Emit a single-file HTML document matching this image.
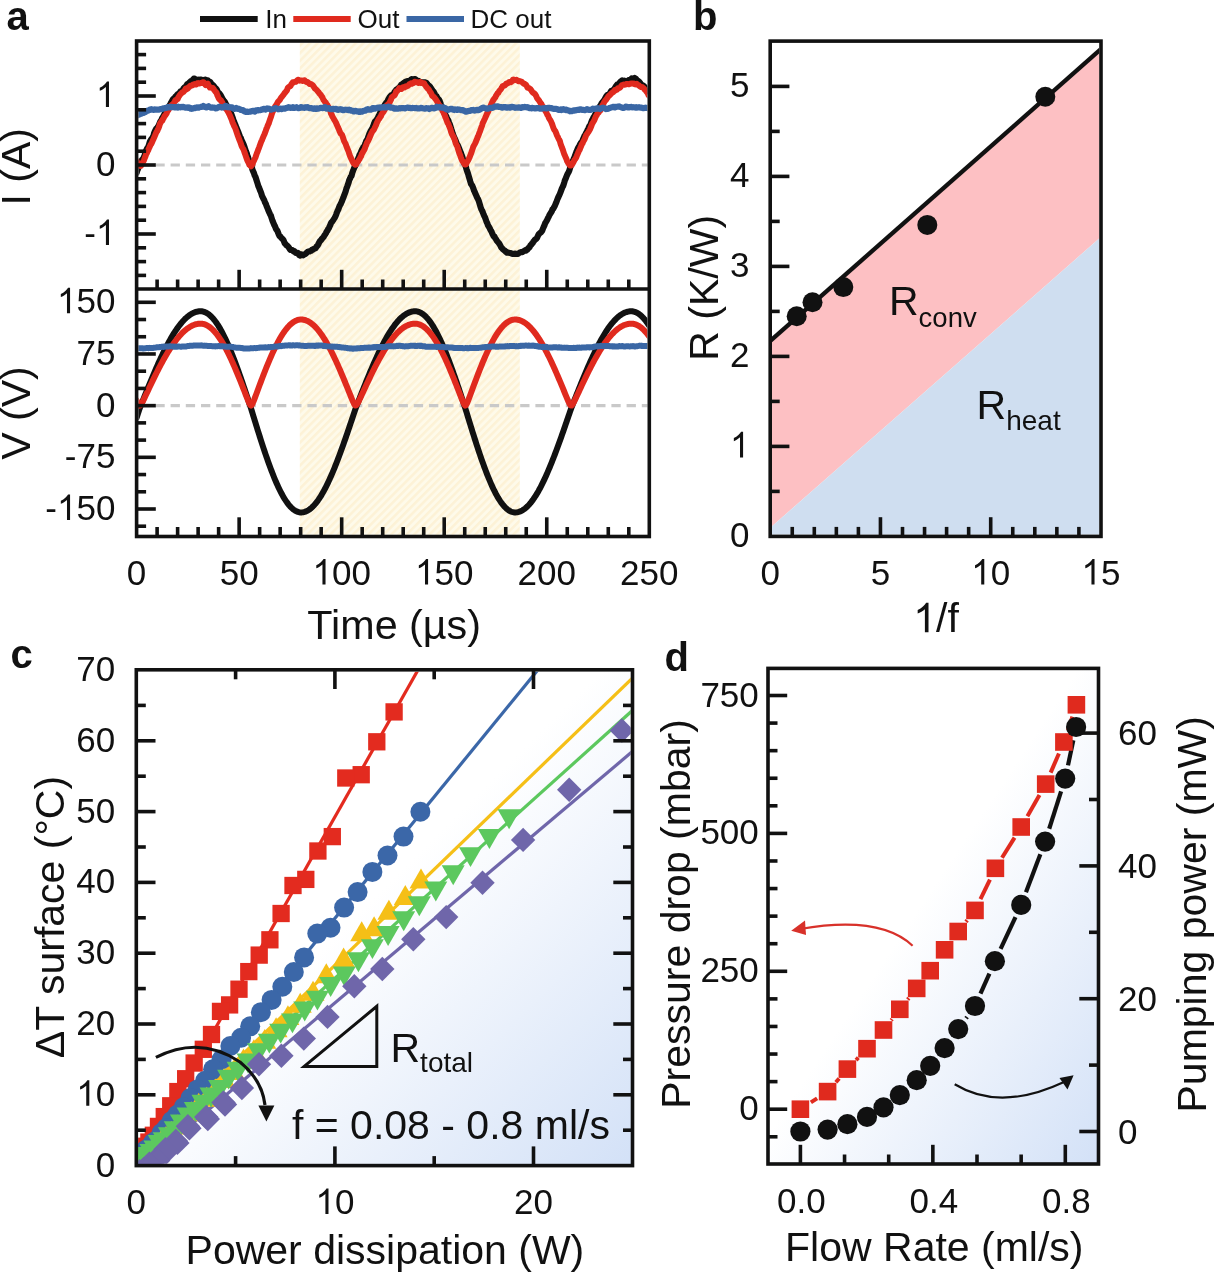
<!DOCTYPE html>
<html><head><meta charset="utf-8"><style>
html,body{margin:0;padding:0;background:#fff;}
svg{display:block;will-change:transform;}
text{font-family:"Liberation Sans", sans-serif;fill:#111;}
</style></head><body>
<svg width="1215" height="1273" viewBox="0 0 1215 1273">
<rect width="1215" height="1273" fill="#fff"/>
<defs><pattern id="hatch" patternUnits="userSpaceOnUse" width="5.4" height="5.4" patternTransform="rotate(45)"><rect width="5.4" height="5.4" fill="#fefaea"/><rect width="2.5" height="5.4" fill="#fdf2d6"/></pattern><linearGradient id="gc" x1="0" y1="0" x2="1" y2="1"><stop offset="0.47" stop-color="#ffffff"/><stop offset="1" stop-color="#d3e1f7"/></linearGradient><linearGradient id="gd" x1="0" y1="0" x2="1" y2="1"><stop offset="0.47" stop-color="#ffffff"/><stop offset="1" stop-color="#d3e1f7"/></linearGradient><clipPath id="clipa1"><rect x="138.4" y="42.8" width="509" height="244.4"/></clipPath><clipPath id="clipa2"><rect x="138.4" y="290.8" width="509" height="243.9"/></clipPath><clipPath id="clipb"><rect x="772" y="42.9" width="327.2" height="491.7"/></clipPath><clipPath id="clipc"><rect x="138.1" y="671.8" width="492.6" height="492"/></clipPath><clipPath id="clipd"><rect x="769.8" y="670.2" width="327" height="492"/></clipPath></defs>
<rect x="299.8" y="42.8" width="220" height="492" fill="url(#hatch)"/>
<line x1="138.4" y1="165" x2="647.5" y2="165" stroke="#c9c9c9" stroke-width="3.2" stroke-dasharray="9.3 5.9" stroke-dashoffset="-17"/>
<line x1="138.4" y1="405.65" x2="647.5" y2="405.65" stroke="#c9c9c9" stroke-width="3.2" stroke-dasharray="9.3 5.9" stroke-dashoffset="-17"/>
<g clip-path="url(#clipa1)">
<polyline points="136.6,172.73 137.33,170.39 138.07,168.92 138.8,166.27 139.53,164.72 140.27,162.58 141,161.79 141.73,160.37 142.47,159.33 143.2,158.57 143.93,157.05 144.67,155.05 145.4,152.72 146.14,150.43 146.87,149.09 147.6,147.61 148.34,146.68 149.07,144.36 149.8,141.97 150.54,140.5 151.27,139.16 152,139.05 152.74,137.09 153.47,135.7 154.2,132.88 154.94,131.07 155.67,129.67 156.4,128.53 157.14,128.17 157.87,126.78 158.6,125.85 159.34,123.98 160.07,122.12 160.8,120.8 161.54,119.58 162.27,117.87 163.01,116.9 163.74,115.54 164.47,114.12 165.21,113.04 165.94,112.16 166.67,110.57 167.41,109.54 168.14,108.2 168.87,106.65 169.61,105.32 170.34,104.29 171.07,102.54 171.81,101.35 172.54,99.93 173.27,98.91 174.01,98.22 174.74,97.87 175.47,96.65 176.21,96.02 176.94,95.03 177.67,94.19 178.41,94.01 179.14,93.3 179.88,92.61 180.61,91.26 181.34,91.15 182.08,90.68 182.81,90.21 183.54,88.34 184.28,87.6 185.01,87.27 185.74,86.65 186.48,85.4 187.21,84.3 187.94,83.74 188.68,83.36 189.41,82.56 190.14,82.16 190.88,81.07 191.61,80.96 192.34,80.58 193.08,79.53 193.81,78.65 194.54,78.69 195.28,79.3 196.01,79.73 196.75,79.57 197.48,79.87 198.21,79.91 198.95,79.53 199.68,79.86 200.41,79.68 201.15,79.6 201.88,80.38 202.61,80.32 203.35,80.24 204.08,80 204.81,79.8 205.55,79.68 206.28,80.05 207.01,80.49 207.75,80.26 208.48,81.14 209.21,81.6 209.95,81.88 210.68,82.56 211.41,84 212.15,84.43 212.88,84.94 213.62,85.78 214.35,86.8 215.08,88.49 215.82,88.4 216.55,89.22 217.28,90.7 218.02,92.35 218.75,93.18 219.48,93.47 220.22,94.48 220.95,95.83 221.68,97.17 222.42,98.75 223.15,99.64 223.88,101.22 224.62,101.58 225.35,102.87 226.08,104.32 226.82,106.05 227.55,107.1 228.28,108.52 229.02,110.04 229.75,111.48 230.48,112.72 231.22,113.66 231.95,115.76 232.69,117.82 233.42,120.09 234.15,121.82 234.89,123.95 235.62,125.45 236.35,127.51 237.09,129.29 237.82,130.96 238.55,132.75 239.29,134.82 240.02,136.73 240.75,137.86 241.49,140.04 242.22,141.37 242.95,143.28 243.69,144.72 244.42,146.81 245.15,149.08 245.89,151.18 246.62,152.94 247.35,155.59 248.09,157.21 248.82,159.87 249.56,161.64 250.29,162.93 251.02,164.92 251.76,167.02 252.49,169.83 253.22,171.49 253.96,173.13 254.69,175.46 255.42,176.75 256.16,179 256.89,181.32 257.62,183.62 258.36,186.12 259.09,187.65 259.82,189.71 260.56,191.47 261.29,193.34 262.02,195.84 262.76,197.31 263.49,198.92 264.22,200.08 264.96,202.39 265.69,203.42 266.43,205.57 267.16,207.4 267.89,209.13 268.63,211.03 269.36,212.63 270.09,214.33 270.83,215.49 271.56,217.88 272.29,220.13 273.03,222.07 273.76,223.7 274.49,225.45 275.23,226.96 275.96,228.83 276.69,229.84 277.43,230.85 278.16,232.92 278.89,234.7 279.63,236.33 280.36,236.54 281.09,237.63 281.83,238.41 282.56,238.99 283.3,239.82 284.03,241.5 284.76,243.53 285.5,243.87 286.23,244.99 286.96,245.57 287.7,246.09 288.43,246.82 289.16,247.98 289.9,249.45 290.63,249.97 291.36,250 292.1,250.04 292.83,250.3 293.56,251.31 294.3,251.19 295.03,252.2 295.76,252.81 296.5,252.86 297.23,252.78 297.96,252.99 298.7,254.29 299.43,255.25 300.17,255.56 300.9,254.29 301.63,254.52 302.37,254.88 303.1,255.24 303.83,254.68 304.57,254.56 305.3,254.04 306.03,253.5 306.77,252.65 307.5,252 308.23,251.71 308.97,251.42 309.7,251.49 310.43,251.01 311.17,250.83 311.9,249.81 312.63,249.95 313.37,249.14 314.1,248.82 314.83,248.5 315.57,248.32 316.3,246.98 317.04,246.03 317.77,245.4 318.5,244 319.24,242.3 319.97,241.09 320.7,240.46 321.44,239.56 322.17,238.33 322.9,237.75 323.64,236.86 324.37,235.58 325.1,234.5 325.84,233.38 326.57,231.77 327.3,230.83 328.04,229.29 328.77,228.4 329.5,226.65 330.24,225.12 330.97,223.18 331.7,222.05 332.44,221.26 333.17,220.26 333.91,219 334.64,218.02 335.37,216.41 336.11,214.76 336.84,212.59 337.57,210.82 338.31,209.46 339.04,207.33 339.77,205.54 340.51,204.38 341.24,202.74 341.97,201.12 342.71,199.22 343.44,197.4 344.17,195.31 344.91,193.45 345.64,191.4 346.37,188.72 347.11,186.82 347.84,184.7 348.57,182.63 349.31,179.9 350.04,178.56 350.78,176.67 351.51,175.98 352.24,172.99 352.98,170.93 353.71,169.17 354.44,167.25 355.18,166.2 355.91,163.82 356.64,161.24 357.38,160.45 358.11,158.68 358.84,156.82 359.58,154.72 360.31,153.83 361.04,151.7 361.78,150.11 362.51,148.8 363.24,147.29 363.98,146.45 364.71,145.36 365.44,143.37 366.18,141.15 366.91,140.13 367.65,138.59 368.38,136.48 369.11,134.51 369.85,132.69 370.58,131.36 371.31,129.92 372.05,128.85 372.78,127.2 373.51,125.23 374.25,123.12 374.98,121.39 375.71,120.69 376.45,120 377.18,118.75 377.91,117.71 378.65,115.79 379.38,114.64 380.11,112.89 380.85,111.17 381.58,109.83 382.31,109.28 383.05,108.62 383.78,107.2 384.52,105.28 385.25,104.02 385.98,103.04 386.72,102.45 387.45,101.48 388.18,99.58 388.92,98.3 389.65,97.09 390.38,96.26 391.12,95.29 391.85,94.94 392.58,95.2 393.32,94.65 394.05,93.14 394.78,91.63 395.52,90.86 396.25,89.85 396.98,89.34 397.72,88.83 398.45,88.19 399.18,88.16 399.92,86.73 400.65,85.65 401.38,84.57 402.12,84.23 402.85,83.69 403.59,83.08 404.32,82.63 405.05,82.04 405.79,81.8 406.52,81.44 407.25,81.14 407.99,81.17 408.72,80.8 409.45,80.78 410.19,80.51 410.92,79.76 411.65,79.16 412.39,79.26 413.12,79.38 413.85,79.68 414.59,79.27 415.32,79.08 416.05,80.33 416.79,81.19 417.52,81.26 418.25,80.83 418.99,81.24 419.72,81.77 420.46,82 421.19,82.45 421.92,82.61 422.66,82.45 423.39,82.55 424.12,82.32 424.86,82.39 425.59,82.55 426.32,82.85 427.06,83.71 427.79,84.7 428.52,85.31 429.26,85.78 429.99,86.54 430.72,87.89 431.46,88.88 432.19,90.02 432.92,91.12 433.66,91.81 434.39,93.14 435.12,94.65 435.86,95.82 436.59,96.25 437.33,97.77 438.06,98.67 438.79,99.38 439.53,100.62 440.26,102.54 440.99,104.71 441.73,106.29 442.46,107.83 443.19,108.76 443.93,111.03 444.66,112.97 445.39,114.62 446.13,116.08 446.86,117.78 447.59,119.22 448.33,120.46 449.06,122.74 449.79,124.33 450.53,126.54 451.26,129 451.99,131.27 452.73,133.69 453.46,135.57 454.2,137.37 454.93,138.86 455.66,140.73 456.4,142.75 457.13,144.45 457.86,145.39 458.6,147.2 459.33,148.91 460.06,151.12 460.8,152.66 461.53,154.69 462.26,156.59 463,159.03 463.73,161.56 464.46,163.67 465.2,164.48 465.93,167.41 466.66,169.73 467.4,171.88 468.13,174 468.86,176.62 469.6,179.15 470.33,181.64 471.07,183.92 471.8,184.99 472.53,186.28 473.27,188.18 474,190.53 474.73,191.95 475.47,193.66 476.2,195.45 476.93,197.19 477.67,198.61 478.4,199.92 479.13,202.1 479.87,204.67 480.6,207.26 481.33,209.18 482.07,210.47 482.8,212.28 483.53,214.29 484.27,215.92 485,217.45 485.73,219.37 486.47,221.64 487.2,223.11 487.94,225.25 488.67,226.39 489.4,227.61 490.14,229.27 490.87,230.63 491.6,231.77 492.34,233.76 493.07,235.13 493.8,236.51 494.54,236.6 495.27,238.4 496,239.11 496.74,240.63 497.47,241.45 498.2,242.31 498.94,243.09 499.67,244.46 500.4,245.61 501.14,247.33 501.87,247.99 502.6,248.91 503.34,249.63 504.07,250.18 504.81,250.64 505.54,251.48 506.27,252.13 507.01,252.7 507.74,252.43 508.47,252.68 509.21,252.88 509.94,252.96 510.67,253.05 511.41,253.36 512.14,253.8 512.87,253.75 513.61,253.73 514.34,253.97 515.07,253.54 515.81,253.9 516.54,253.73 517.27,253.76 518.01,253.81 518.74,253.22 519.47,252.74 520.21,252.4 520.94,252.16 521.68,252.1 522.41,252.08 523.14,251.51 523.88,251.16 524.61,250.91 525.34,250.18 526.08,250.56 526.81,249.85 527.54,249.34 528.28,248.11 529.01,247.78 529.74,246.91 530.48,245.17 531.21,244.76 531.94,243.63 532.68,243.02 533.41,241.63 534.14,240.83 534.88,239.65 535.61,239.24 536.34,238.68 537.08,237.82 537.81,236.13 538.55,234.47 539.28,233.73 540.01,233.06 540.75,232.52 541.48,231.57 542.21,230.57 542.95,228.62 543.68,226.92 544.41,225.35 545.15,223.24 545.88,222.1 546.61,220.91 547.35,219.49 548.08,217.76 548.81,216.55 549.55,214.87 550.28,213.67 551.01,212.57 551.75,211.36 552.48,209.38 553.21,208.74 553.95,207.31 554.68,206.1 555.42,204.33 556.15,202.71 556.88,200.71 557.62,198.77 558.35,197.13 559.08,195.53 559.82,194 560.55,192.07 561.28,190.16 562.02,188.09 562.75,186.69 563.48,184.96 564.22,182.66 564.95,180.02 565.68,178.53 566.42,176.62 567.15,174.86 567.88,173.3 568.62,172.14 569.35,170.3 570.08,167.91 570.82,165.54 571.55,163.13 572.28,162.22 573.02,160.76 573.75,158.8 574.49,157.18 575.22,155.11 575.95,153.24 576.69,151.15 577.42,149.52 578.15,147.81 578.89,146.6 579.62,145.36 580.35,143.69 581.09,142.66 581.82,142.52 582.55,140.41 583.29,138.6 584.02,136.92 584.75,135.29 585.49,134.34 586.22,132.73 586.95,131.58 587.69,129.73 588.42,128.44 589.15,126.53 589.89,125.61 590.62,124.27 591.36,122.07 592.09,120.12 592.82,119.01 593.56,117.32 594.29,116.32 595.02,114.82 595.76,113.75 596.49,113.06 597.22,111.73 597.96,109.77 598.69,108.1 599.42,107.24 600.16,105.77 600.89,104.99 601.62,103.29 602.36,102.32 603.09,101.51 603.82,100.93 604.56,99.4 605.29,98.28 606.02,96.67 606.76,95.75 607.49,94.99 608.23,94.73 608.96,94.25 609.69,93.61 610.43,92.3 611.16,90.96 611.89,90.71 612.63,90.34 613.36,89.84 614.09,89.52 614.83,88.13 615.56,86.9 616.29,85.75 617.03,84.74 617.76,85.19 618.49,85.08 619.23,83.81 619.96,82.27 620.69,81.56 621.43,81.05 622.16,80.46 622.89,80.72 623.63,80.84 624.36,80.71 625.1,81.27 625.83,81.17 626.56,81.36 627.3,80.96 628.03,80.76 628.76,80.12 629.5,79.96 630.23,79.87 630.96,79.37 631.7,78.42 632.43,79.04 633.16,78.7 633.9,78.47 634.63,77.91 635.36,78.44 636.1,79.02 636.83,80.38 637.56,80.73 638.3,81.01 639.03,81.49 639.76,82.61 640.5,83.63 641.23,84.48 641.97,84.87 642.7,85.67 643.43,85.66 644.17,86.37 644.9,87.13 645.63,88.15 646.37,89.04 647.1,90.17 647.83,90.85 648.57,91.37 649.3,91.99" fill="none" stroke="#111111" stroke-width="6.2" stroke-linejoin="round" stroke-linecap="round" />
<polyline points="136.6,160.93 137.33,162.71 138.07,163.51 138.8,164.21 139.53,165.35 140.27,166.01 141,165.9 141.73,164.08 142.47,163.13 143.2,161.78 143.93,160.3 144.67,158.25 145.4,156.57 146.14,154.26 146.87,153.09 147.6,151.39 148.34,150.02 149.07,148.06 149.8,146.61 150.54,144.82 151.27,144.05 152,142.52 152.74,140.57 153.47,139.16 154.2,137.36 154.94,135.81 155.67,133.87 156.4,132.19 157.14,131.23 157.87,129.49 158.6,128.07 159.34,125.93 160.07,123.29 160.8,122.36 161.54,121.17 162.27,120.73 163.01,119.05 163.74,118.04 164.47,116.14 165.21,115.66 165.94,114.31 166.67,113.38 167.41,111.03 168.14,110.53 168.87,109.26 169.61,107.72 170.34,106.8 171.07,105.54 171.81,104.9 172.54,104.51 173.27,104.28 174.01,102.71 174.74,101.48 175.47,100.06 176.21,100.16 176.94,99.21 177.67,99.13 178.41,97.08 179.14,96.14 179.88,94.98 180.61,93.93 181.34,93.57 182.08,92.57 182.81,92.23 183.54,91.96 184.28,90.83 185.01,90.24 185.74,88.55 186.48,89.31 187.21,88.81 187.94,88.37 188.68,87.16 189.41,86.79 190.14,85.89 190.88,85.55 191.61,85.6 192.34,85.39 193.08,84.58 193.81,84.54 194.54,84.06 195.28,84.32 196.01,84.58 196.75,84.04 197.48,83.23 198.21,83.06 198.95,83.45 199.68,83.4 200.41,82.96 201.15,83.06 201.88,83 202.61,82.4 203.35,82.18 204.08,82.57 204.81,83.9 205.55,84.98 206.28,84.5 207.01,84.01 207.75,83.58 208.48,85.51 209.21,86.61 209.95,87.57 210.68,87.35 211.41,87.89 212.15,88.01 212.88,88.07 213.62,88.98 214.35,90.31 215.08,91.15 215.82,92.11 216.55,92.68 217.28,95.12 218.02,96.65 218.75,98.53 219.48,99.19 220.22,100.16 220.95,100.43 221.68,101.61 222.42,102.86 223.15,104.61 223.88,105.54 224.62,106.81 225.35,107.33 226.08,108.97 226.82,109.8 227.55,110.94 228.28,112.19 229.02,113.7 229.75,115.11 230.48,116.94 231.22,118.69 231.95,120.45 232.69,122.69 233.42,124.25 234.15,126.03 234.89,127.44 235.62,129.18 236.35,131.26 237.09,133.63 237.82,135.75 238.55,137.67 239.29,139.63 240.02,141.49 240.75,143.33 241.49,145.74 242.22,147.3 242.95,148.5 243.69,149.78 244.42,152.13 245.15,154.11 245.89,156.35 246.62,158.43 247.35,160.34 248.09,161.86 248.82,163.23 249.56,164.97 250.29,165.53 251.02,166.35 251.76,165.2 252.49,164.2 253.22,162.05 253.96,160.59 254.69,159.05 255.42,157.47 256.16,155.2 256.89,153.17 257.62,151.48 258.36,149.33 259.09,147.55 259.82,145.55 260.56,143.42 261.29,141.48 262.02,140.07 262.76,138.07 263.49,136.27 264.22,134.7 264.96,133.01 265.69,130.97 266.43,128.76 267.16,127.07 267.89,125.18 268.63,123.73 269.36,121.4 270.09,119.35 270.83,117.28 271.56,114.95 272.29,112.53 273.03,111.17 273.76,109.38 274.49,107.94 275.23,106.27 275.96,105.34 276.69,104.37 277.43,102.86 278.16,101.5 278.89,100.92 279.63,100.19 280.36,98.98 281.09,97.53 281.83,96.81 282.56,95.9 283.3,95.03 284.03,94.01 284.76,92.75 285.5,92.23 286.23,91.05 286.96,90.3 287.7,88.07 288.43,87.28 289.16,86.64 289.9,86.31 290.63,85.88 291.36,84.16 292.1,83.35 292.83,82.3 293.56,82.46 294.3,82.12 295.03,81.79 295.76,81.77 296.5,81.19 297.23,80.38 297.96,79.78 298.7,79.95 299.43,80.62 300.17,80.46 300.9,80.47 301.63,80.5 302.37,80.92 303.1,80.45 303.83,80.37 304.57,80.25 305.3,81.05 306.03,81.91 306.77,81.86 307.5,81.95 308.23,82.58 308.97,83.55 309.7,84.05 310.43,83.83 311.17,84.03 311.9,84.64 312.63,85.19 313.37,86.13 314.1,87.14 314.83,88.33 315.57,88.95 316.3,89.64 317.04,90.34 317.77,91.46 318.5,91.95 319.24,93.32 319.97,93.99 320.7,94.64 321.44,96.08 322.17,96.85 322.9,98.55 323.64,100.07 324.37,100.97 325.1,102.06 325.84,102.65 326.57,104.24 327.3,104.82 328.04,106.42 328.77,107.3 329.5,109.11 330.24,110.76 330.97,113.55 331.7,114.67 332.44,116.59 333.17,117.74 333.91,119.22 334.64,120.33 335.37,121.63 336.11,123.01 336.84,124.69 337.57,126.37 338.31,128.2 339.04,129.64 339.77,131.65 340.51,133.37 341.24,133.95 341.97,134.73 342.71,136.84 343.44,139.06 344.17,141.14 344.91,142.54 345.64,143.95 346.37,146.01 347.11,147.98 347.84,149.73 348.57,151.41 349.31,153.98 350.04,156.05 350.78,157.61 351.51,159.23 352.24,160.84 352.98,162.15 353.71,163.54 354.44,163.89 355.18,164.69 355.91,164.55 356.64,163.6 357.38,162.01 358.11,161.39 358.84,159.93 359.58,159.02 360.31,157.38 361.04,156.31 361.78,153.99 362.51,152.87 363.24,151.5 363.98,150.35 364.71,149.02 365.44,146.55 366.18,144.93 366.91,142.82 367.65,141.67 368.38,140.36 369.11,138.7 369.85,136.98 370.58,135.31 371.31,133.5 372.05,132.12 372.78,130.84 373.51,130.08 374.25,128.85 374.98,127.24 375.71,125.77 376.45,123.93 377.18,122.09 377.91,120.73 378.65,119.19 379.38,118.5 380.11,117.18 380.85,116.3 381.58,114.41 382.31,113.27 383.05,112.32 383.78,111.38 384.52,110.09 385.25,108.44 385.98,107.05 386.72,105.36 387.45,104.78 388.18,104.27 388.92,103.35 389.65,102.28 390.38,100.91 391.12,99.45 391.85,97.15 392.58,96.64 393.32,96.07 394.05,95.67 394.78,95 395.52,93.41 396.25,91.34 396.98,91.28 397.72,90.41 398.45,89.55 399.18,88.17 399.92,88.99 400.65,89 401.38,88.93 402.12,87.85 402.85,87.37 403.59,87.36 404.32,87.6 405.05,87.08 405.79,86.31 406.52,86.36 407.25,85.89 407.99,85.73 408.72,85.09 409.45,84.25 410.19,84.05 410.92,83.4 411.65,83.71 412.39,83.01 413.12,83.18 413.85,82.53 414.59,81.78 415.32,81.71 416.05,82.18 416.79,82.14 417.52,82.2 418.25,82.94 418.99,82.28 419.72,82.08 420.46,82.1 421.19,82.79 421.92,83.01 422.66,83.07 423.39,83.14 424.12,83.19 424.86,84.87 425.59,85.71 426.32,86.91 427.06,87.67 427.79,88.65 428.52,89.21 429.26,90.22 429.99,91.75 430.72,92.53 431.46,94.03 432.19,95.7 432.92,96.34 433.66,96.77 434.39,97.65 435.12,98.57 435.86,99.59 436.59,100.62 437.33,101.92 438.06,103.09 438.79,104.42 439.53,105.31 440.26,106.23 440.99,107.49 441.73,108.67 442.46,110.77 443.19,111.68 443.93,113.68 444.66,114.96 445.39,117.2 446.13,118.92 446.86,121.01 447.59,122.93 448.33,123.87 449.06,125.88 449.79,127.58 450.53,129.69 451.26,132.33 451.99,134.35 452.73,135.48 453.46,136.83 454.2,138.26 454.93,140.71 455.66,143.14 456.4,144.86 457.13,146.05 457.86,148.34 458.6,150.97 459.33,153.28 460.06,154.92 460.8,157.2 461.53,159.13 462.26,160.78 463,161.87 463.73,162.68 464.46,164.19 465.2,164.53 465.93,164.34 466.66,162.9 467.4,161.48 468.13,160.4 468.86,158.93 469.6,157.21 470.33,155.16 471.07,153.56 471.8,151.29 472.53,149.09 473.27,146.76 474,145.41 474.73,144.1 475.47,142.66 476.2,140.82 476.93,139.15 477.67,137 478.4,135.59 479.13,133.43 479.87,131.61 480.6,129.59 481.33,127.36 482.07,125.53 482.8,122.85 483.53,121.67 484.27,119.83 485,118.44 485.73,116.62 486.47,115.06 487.2,113.2 487.94,112.16 488.67,110.3 489.4,108.6 490.14,106.89 490.87,105.36 491.6,103.39 492.34,101.77 493.07,100.36 493.8,99.37 494.54,98.31 495.27,97.4 496,95.79 496.74,94.72 497.47,93.34 498.2,93.04 498.94,91.61 499.67,90.59 500.4,89.68 501.14,88.87 501.87,87.61 502.6,86.25 503.34,85.86 504.07,85.62 504.81,85.59 505.54,84.79 506.27,83.5 507.01,83.57 507.74,83.39 508.47,82.73 509.21,82.02 509.94,82.02 510.67,82.2 511.41,81.83 512.14,80.97 512.87,79.76 513.61,79.6 514.34,80.19 515.07,80.13 515.81,79.93 516.54,79.85 517.27,80.46 518.01,80.91 518.74,81.3 519.47,81.06 520.21,81.39 520.94,81.5 521.68,81.79 522.41,82.62 523.14,83.05 523.88,83.9 524.61,83.85 525.34,84.47 526.08,85.02 526.81,86.1 527.54,87.77 528.28,87.76 529.01,88.18 529.74,88.59 530.48,89.14 531.21,90.18 531.94,91.34 532.68,92.55 533.41,92.78 534.14,93.43 534.88,93.87 535.61,95.05 536.34,96.32 537.08,98.09 537.81,99.22 538.55,99.84 539.28,101.07 540.01,102.13 540.75,103.29 541.48,104.11 542.21,106.06 542.95,106.62 543.68,107.59 544.41,109.14 545.15,110.59 545.88,111.69 546.61,112.98 547.35,114.86 548.08,115.59 548.81,117.8 549.55,119.14 550.28,120.04 551.01,121.57 551.75,123.15 552.48,125.13 553.21,127.38 553.95,129.24 554.68,130.3 555.42,131.29 556.15,133.16 556.88,135.1 557.62,136.55 558.35,138.2 559.08,139.7 559.82,140.88 560.55,143.67 561.28,145.72 562.02,147.78 562.75,149.43 563.48,151.82 564.22,154.16 564.95,155.59 565.68,157.48 566.42,159.05 567.15,161.29 567.88,162.5 568.62,163.55 569.35,164.44 570.08,165.45 570.82,165.48 571.55,165.1 572.28,163.89 573.02,162.88 573.75,161.52 574.49,159.89 575.22,159.08 575.95,157.94 576.69,156.23 577.42,154.43 578.15,152.83 578.89,150.94 579.62,149.82 580.35,147.89 581.09,146.32 581.82,144.22 582.55,143.35 583.29,141.5 584.02,140.28 584.75,138.83 585.49,136.95 586.22,134.94 586.95,134.22 587.69,133 588.42,132.03 589.15,130.74 589.89,129.49 590.62,127.77 591.36,126.01 592.09,123.9 592.82,122.68 593.56,121.42 594.29,120.14 595.02,118.54 595.76,116.58 596.49,115.54 597.22,114.08 597.96,113.02 598.69,112.49 599.42,111.16 600.16,110.6 600.89,107.91 601.62,106.95 602.36,105.45 603.09,104.24 603.82,102.84 604.56,101.5 605.29,100.49 606.02,99.79 606.76,98.62 607.49,97.9 608.23,96.58 608.96,95.75 609.69,95.23 610.43,94.59 611.16,93.59 611.89,93.01 612.63,92.31 613.36,92.1 614.09,91.06 614.83,90.14 615.56,90.31 616.29,89.72 617.03,89.76 617.76,88.28 618.49,88.43 619.23,87.99 619.96,87.69 620.69,86.8 621.43,85.77 622.16,84.94 622.89,85.04 623.63,84.56 624.36,84.81 625.1,84.66 625.83,84.21 626.56,84.02 627.3,84 628.03,83.88 628.76,84.32 629.5,83.9 630.23,83.8 630.96,83.46 631.7,83.56 632.43,83.59 633.16,83.4 633.9,84 634.63,83.79 635.36,84.34 636.1,84.42 636.83,83.85 637.56,84.55 638.3,84.98 639.03,85.49 639.76,86.14 640.5,86.82 641.23,87.1 641.97,86.93 642.7,87.51 643.43,87.97 644.17,88.76 644.9,89.91 645.63,90.14 646.37,91.36 647.1,92.35 647.83,93.59 648.57,95.25 649.3,96.05" fill="none" stroke="#e02a1e" stroke-width="6.0" stroke-linejoin="round" stroke-linecap="round" />
<polyline points="136.6,115.37 137.33,115.38 138.07,114.98 138.8,114.69 139.53,114.23 140.27,113.98 141,113.44 141.73,113.54 142.47,113.02 143.2,113.01 143.93,112.72 144.67,112.22 145.4,111.99 146.14,111.25 146.87,110.93 147.6,110.66 148.34,110.56 149.07,110.21 149.8,109.68 150.54,109.56 151.27,109.16 152,109.57 152.74,109.78 153.47,109.85 154.2,109.52 154.94,109.43 155.67,109.64 156.4,109.69 157.14,109.52 157.87,109.49 158.6,109.53 159.34,109.57 160.07,109.14 160.8,109.17 161.54,109.12 162.27,108.92 163.01,108.47 163.74,108.44 164.47,108.16 165.21,107.98 165.94,108.01 166.67,107.8 167.41,107.19 168.14,107.02 168.87,107.26 169.61,107.36 170.34,106.77 171.07,106.75 171.81,107.2 172.54,107.19 173.27,107.2 174.01,107.06 174.74,107.39 175.47,107.02 176.21,107.11 176.94,107.4 177.67,107.61 178.41,106.62 179.14,107.01 179.88,107.01 180.61,107.27 181.34,106.95 182.08,107.1 182.81,106.9 183.54,106.84 184.28,107.27 185.01,107.7 185.74,107.67 186.48,107.59 187.21,107.31 187.94,107.8 188.68,107.37 189.41,107.7 190.14,107.76 190.88,108.65 191.61,108.84 192.34,108.64 193.08,108.3 193.81,107.99 194.54,107.95 195.28,108.2 196.01,107.75 196.75,107.28 197.48,107.43 198.21,107.76 198.95,107.49 199.68,107.19 200.41,107.06 201.15,106.91 201.88,106.82 202.61,106.64 203.35,105.93 204.08,106.47 204.81,106.91 205.55,107.12 206.28,107.43 207.01,106.89 207.75,106.58 208.48,106.26 209.21,107.01 209.95,107.17 210.68,107.62 211.41,107.47 212.15,107.41 212.88,107.64 213.62,107.51 214.35,107.74 215.08,107.88 215.82,108.36 216.55,108.27 217.28,107.97 218.02,107.59 218.75,106.97 219.48,106.77 220.22,107.08 220.95,107.16 221.68,107.52 222.42,107.28 223.15,107.33 223.88,106.83 224.62,106.57 225.35,105.87 226.08,106.07 226.82,106.83 227.55,107.22 228.28,106.88 229.02,106.81 229.75,107.39 230.48,107.42 231.22,107.41 231.95,107.25 232.69,108.17 233.42,108.46 234.15,108.85 234.89,108.69 235.62,108.27 236.35,107.98 237.09,108.3 237.82,108.89 238.55,108.88 239.29,108.95 240.02,109.29 240.75,109.93 241.49,110.06 242.22,109.98 242.95,110.02 243.69,110.65 244.42,111.52 245.15,111.5 245.89,111.86 246.62,111.7 247.35,111.61 248.09,111.9 248.82,111.82 249.56,111.69 250.29,111.59 251.02,111.26 251.76,111.15 252.49,110.91 253.22,110.75 253.96,110.96 254.69,111.57 255.42,111.12 256.16,110.4 256.89,110.32 257.62,110.03 258.36,110.3 259.09,110.23 259.82,110.27 260.56,110.05 261.29,109.8 262.02,109.37 262.76,109.43 263.49,108.95 264.22,108.95 264.96,109.27 265.69,109.57 266.43,109.04 267.16,108.4 267.89,108.58 268.63,108.55 269.36,108.92 270.09,109.25 270.83,109.62 271.56,109.66 272.29,109.24 273.03,109.08 273.76,108.93 274.49,108.63 275.23,108.03 275.96,108.26 276.69,108.56 277.43,108.76 278.16,109.28 278.89,109.16 279.63,109 280.36,108.72 281.09,108.56 281.83,109.01 282.56,108.49 283.3,108.62 284.03,108.47 284.76,108.61 285.5,108.28 286.23,108.15 286.96,107.87 287.7,107.57 288.43,107.17 289.16,107.45 289.9,107.62 290.63,107.94 291.36,107.6 292.1,107.74 292.83,107.21 293.56,107.92 294.3,107.83 295.03,107.51 295.76,107.62 296.5,107.25 297.23,107.82 297.96,107.95 298.7,108.16 299.43,107.88 300.17,107.91 300.9,107.17 301.63,107.28 302.37,107.5 303.1,107.74 303.83,107.77 304.57,107.91 305.3,107.35 306.03,107.16 306.77,107.55 307.5,107.15 308.23,107.5 308.97,107.8 309.7,108.2 310.43,108.06 311.17,108.12 311.9,108.28 312.63,108.64 313.37,108.86 314.1,108.47 314.83,108.26 315.57,108.91 316.3,108.47 317.04,108.81 317.77,108.41 318.5,108.58 319.24,108.33 319.97,108.09 320.7,107.73 321.44,107.9 322.17,108.1 322.9,108.06 323.64,107.58 324.37,107.14 325.1,107.11 325.84,107.65 326.57,108.61 327.3,108.5 328.04,108.37 328.77,108.19 329.5,108.85 330.24,108.83 330.97,109.09 331.7,108.99 332.44,109.04 333.17,108.91 333.91,108.94 334.64,109.17 335.37,108.96 336.11,108.82 336.84,109.31 337.57,109.75 338.31,109.88 339.04,109.28 339.77,109.46 340.51,109.22 341.24,109.31 341.97,109.72 342.71,109.97 343.44,110.25 344.17,109.84 344.91,109.78 345.64,109.72 346.37,109.74 347.11,109.81 347.84,109.75 348.57,110.06 349.31,109.71 350.04,110.06 350.78,110.57 351.51,110.44 352.24,110.79 352.98,110.91 353.71,111.42 354.44,111.2 355.18,111.05 355.91,110.8 356.64,111.23 357.38,111.41 358.11,111.43 358.84,111.89 359.58,111.95 360.31,111.37 361.04,111.29 361.78,111.69 362.51,111.48 363.24,111.03 363.98,110.82 364.71,110.77 365.44,110.76 366.18,109.75 366.91,109.55 367.65,109.19 368.38,109.28 369.11,109.68 369.85,109.74 370.58,109.76 371.31,109.19 372.05,109.12 372.78,108.08 373.51,108.11 374.25,108.25 374.98,108.59 375.71,108.3 376.45,107.97 377.18,107.85 377.91,107.63 378.65,107.62 379.38,107.76 380.11,107.45 380.85,107.6 381.58,107.28 382.31,107.41 383.05,107.42 383.78,107.19 384.52,106.9 385.25,107.34 385.98,107.27 386.72,107.29 387.45,106.93 388.18,106.71 388.92,106.7 389.65,107.27 390.38,107.08 391.12,107.58 391.85,107.53 392.58,107.68 393.32,107.97 394.05,108.53 394.78,108.76 395.52,108.28 396.25,108.52 396.98,108.64 397.72,108.59 398.45,108.61 399.18,108.19 399.92,108.44 400.65,108.25 401.38,108.08 402.12,108.24 402.85,108.15 403.59,108.11 404.32,108.24 405.05,108.36 405.79,108.08 406.52,107.88 407.25,107.69 407.99,107.61 408.72,107.88 409.45,107.84 410.19,107.82 410.92,108.24 411.65,108.12 412.39,107.94 413.12,108.02 413.85,108.01 414.59,108.03 415.32,108.05 416.05,107.97 416.79,108.22 417.52,108.34 418.25,108.42 418.99,108.45 419.72,108.4 420.46,107.95 421.19,107.82 421.92,108.15 422.66,108.29 423.39,108.43 424.12,108.56 424.86,108.62 425.59,108.47 426.32,108.15 427.06,108.24 427.79,108.48 428.52,108.47 429.26,108.97 429.99,108.46 430.72,108.37 431.46,107.92 432.19,107.87 432.92,108 433.66,108.41 434.39,108.4 435.12,108.16 435.86,107.4 436.59,106.77 437.33,107.24 438.06,107.32 438.79,107.45 439.53,107 440.26,107.41 440.99,107.36 441.73,107.62 442.46,107.53 443.19,107.34 443.93,107.87 444.66,107.74 445.39,108.85 446.13,108.73 446.86,109.44 447.59,109.68 448.33,109.89 449.06,109.44 449.79,109.1 450.53,108.77 451.26,108.87 451.99,108.81 452.73,109.47 453.46,109.67 454.2,109.99 454.93,109.35 455.66,109.68 456.4,109.53 457.13,109.93 457.86,109.42 458.6,109.47 459.33,109.66 460.06,109.76 460.8,110.23 461.53,110.2 462.26,110.13 463,110.05 463.73,110.68 464.46,110.84 465.2,111.28 465.93,111.71 466.66,111.64 467.4,111.19 468.13,111.19 468.86,110.89 469.6,111.02 470.33,110.84 471.07,110.26 471.8,110.03 472.53,110.19 473.27,109.94 474,110.53 474.73,110.58 475.47,110.34 476.2,110.1 476.93,109.76 477.67,109.77 478.4,110.15 479.13,110.04 479.87,109.51 480.6,109.08 481.33,108.48 482.07,107.97 482.8,107.8 483.53,107.66 484.27,107.96 485,108.02 485.73,108.37 486.47,108.66 487.2,108.71 487.94,108.56 488.67,108.47 489.4,108.15 490.14,108.05 490.87,107.81 491.6,108.02 492.34,107.76 493.07,107.62 493.8,107.23 494.54,106.77 495.27,106.47 496,106.66 496.74,106.53 497.47,106.35 498.2,106.54 498.94,106.94 499.67,106.88 500.4,107.09 501.14,107.16 501.87,107.62 502.6,107.57 503.34,107.06 504.07,107.17 504.81,107.3 505.54,107.15 506.27,107.44 507.01,107.69 507.74,107.3 508.47,107.47 509.21,107.46 509.94,107.73 510.67,107.32 511.41,106.76 512.14,106.89 512.87,107.18 513.61,107.05 514.34,107.37 515.07,107.8 515.81,107.6 516.54,107.59 517.27,107.63 518.01,107.5 518.74,107.33 519.47,107.52 520.21,107.77 520.94,107.9 521.68,107.37 522.41,107.02 523.14,107.38 523.88,107.14 524.61,106.93 525.34,107.24 526.08,107.18 526.81,107.42 527.54,107.22 528.28,107.69 529.01,107.84 529.74,108.23 530.48,108.19 531.21,108.33 531.94,107.86 532.68,108.05 533.41,108.12 534.14,108.31 534.88,108.43 535.61,108.45 536.34,108.3 537.08,108.15 537.81,108.11 538.55,108.15 539.28,108.26 540.01,108.62 540.75,108.58 541.48,108.62 542.21,108.53 542.95,108.4 543.68,108.38 544.41,108.16 545.15,108.17 545.88,108.31 546.61,108.15 547.35,108.36 548.08,107.92 548.81,107.81 549.55,107.88 550.28,108.19 551.01,107.98 551.75,108.21 552.48,108.56 553.21,108.84 553.95,109 554.68,108.94 555.42,108.82 556.15,108.89 556.88,109.13 557.62,109.31 558.35,109.84 559.08,109.74 559.82,109.86 560.55,109.49 561.28,110.02 562.02,109.29 562.75,109.56 563.48,109.18 564.22,109.71 564.95,109.62 565.68,110.06 566.42,109.74 567.15,110.23 567.88,110.3 568.62,110.55 569.35,110.6 570.08,111.29 570.82,111.21 571.55,111.26 572.28,110.86 573.02,110.7 573.75,110.39 574.49,110.6 575.22,110.21 575.95,110.33 576.69,110.1 577.42,109.78 578.15,109.72 578.89,109.85 579.62,109.51 580.35,109.36 581.09,109.39 581.82,109.86 582.55,109.85 583.29,109.87 584.02,109.96 584.75,110.13 585.49,109.95 586.22,109.68 586.95,109.24 587.69,109.53 588.42,109.74 589.15,109.88 589.89,109.83 590.62,109.81 591.36,109.72 592.09,109.24 592.82,108.7 593.56,108.73 594.29,108.86 595.02,108.86 595.76,108.55 596.49,108.73 597.22,108.46 597.96,108.17 598.69,108.65 599.42,108.83 600.16,109.04 600.89,108.34 601.62,108.08 602.36,107.72 603.09,107.67 603.82,108.11 604.56,108.4 605.29,108.43 606.02,109.14 606.76,108.92 607.49,108.96 608.23,108.62 608.96,108.31 609.69,108.09 610.43,107.64 611.16,107.43 611.89,107.45 612.63,107.01 613.36,106.85 614.09,106.89 614.83,107.43 615.56,106.79 616.29,106.87 617.03,106.77 617.76,106.71 618.49,106.67 619.23,106.45 619.96,106.93 620.69,107.17 621.43,107.26 622.16,107.56 622.89,107.87 623.63,107.93 624.36,107.66 625.1,107.42 625.83,106.64 626.56,106.74 627.3,106.74 628.03,107.34 628.76,107.45 629.5,107.27 630.23,107.08 630.96,106.92 631.7,107.05 632.43,107.33 633.16,107.18 633.9,107.38 634.63,107.36 635.36,107.57 636.1,107.2 636.83,107.7 637.56,107.43 638.3,107.3 639.03,107.47 639.76,107.32 640.5,107.59 641.23,107.6 641.97,107.7 642.7,107.94 643.43,108.12 644.17,107.96 644.9,107.88 645.63,108.01 646.37,107.78 647.1,107.77 647.83,107.87 648.57,108.5 649.3,108.66" fill="none" stroke="#3a67a5" stroke-width="6.2" stroke-linejoin="round" stroke-linecap="round" />
</g>
<g clip-path="url(#clipa2)">
<polyline points="136.6,417.79 137.33,415.55 138.07,413.32 138.8,411.08 139.53,408.84 140.27,406.92 141,405.09 141.73,403.25 142.47,401.42 143.2,399.59 143.93,397.76 144.67,395.93 145.4,394.11 146.14,392.3 146.87,390.49 147.6,388.69 148.34,386.89 149.07,385.1 149.8,383.32 150.54,381.55 151.27,379.79 152,378.04 152.74,376.3 153.47,374.57 154.2,372.85 154.94,371.15 155.67,369.46 156.4,367.78 157.14,366.12 157.87,364.48 158.6,362.84 159.34,361.23 160.07,359.63 160.8,358.05 161.54,356.49 162.27,354.95 163.01,353.42 163.74,351.92 164.47,350.43 165.21,348.97 165.94,347.52 166.67,346.1 167.41,344.7 168.14,343.33 168.87,341.98 169.61,340.65 170.34,339.34 171.07,338.06 171.81,336.81 172.54,335.58 173.27,334.37 174.01,333.2 174.74,332.05 175.47,330.93 176.21,329.83 176.94,328.76 177.67,327.73 178.41,326.72 179.14,325.74 179.88,324.79 180.61,323.87 181.34,322.98 182.08,322.12 182.81,321.29 183.54,320.49 184.28,319.72 185.01,318.99 185.74,318.29 186.48,317.62 187.21,316.98 187.94,316.37 188.68,315.8 189.41,315.26 190.14,314.76 190.88,314.29 191.61,313.85 192.34,313.44 193.08,313.07 193.81,312.74 194.54,312.43 195.28,312.17 196.01,311.93 196.75,311.73 197.48,311.57 198.21,311.44 198.95,311.34 199.68,311.28 200.41,311.26 201.15,311.27 201.88,311.34 202.61,311.45 203.35,311.62 204.08,311.83 204.81,312.1 205.55,312.41 206.28,312.78 207.01,313.2 207.75,313.66 208.48,314.18 209.21,314.74 209.95,315.36 210.68,316.02 211.41,316.73 212.15,317.49 212.88,318.29 213.62,319.14 214.35,320.04 215.08,320.99 215.82,321.98 216.55,323.01 217.28,324.09 218.02,325.22 218.75,326.38 219.48,327.59 220.22,328.85 220.95,330.14 221.68,331.48 222.42,332.85 223.15,334.26 223.88,335.72 224.62,337.21 225.35,338.74 226.08,340.3 226.82,341.9 227.55,343.53 228.28,345.2 229.02,346.9 229.75,348.64 230.48,350.4 231.22,352.2 231.95,354.02 232.69,355.87 233.42,357.75 234.15,359.66 234.89,361.59 235.62,363.55 236.35,365.53 237.09,367.53 237.82,369.55 238.55,371.6 239.29,373.66 240.02,375.74 240.75,377.84 241.49,379.95 242.22,382.08 242.95,384.22 243.69,386.38 244.42,388.54 245.15,390.72 245.89,392.9 246.62,395.1 247.35,397.3 248.09,399.51 248.82,401.72 249.56,403.93 250.29,406.15 251.02,408.37 251.76,410.76 252.49,413.16 253.22,415.55 253.96,417.93 254.69,420.32 255.42,422.69 256.16,425.06 256.89,427.42 257.62,429.77 258.36,432.11 259.09,434.44 259.82,436.75 260.56,439.05 261.29,441.33 262.02,443.59 262.76,445.83 263.49,448.06 264.22,450.26 264.96,452.45 265.69,454.6 266.43,456.74 267.16,458.85 267.89,460.93 268.63,462.98 269.36,465.01 270.09,467 270.83,468.96 271.56,470.9 272.29,472.79 273.03,474.66 273.76,476.49 274.49,478.28 275.23,480.04 275.96,481.76 276.69,483.43 277.43,485.07 278.16,486.67 278.89,488.23 279.63,489.75 280.36,491.22 281.09,492.65 281.83,494.03 282.56,495.37 283.3,496.66 284.03,497.9 284.76,499.1 285.5,500.25 286.23,501.35 286.96,502.4 287.7,503.4 288.43,504.36 289.16,505.26 289.9,506.11 290.63,506.9 291.36,507.65 292.1,508.34 292.83,508.98 293.56,509.57 294.3,510.1 295.03,510.58 295.76,511 296.5,511.37 297.23,511.69 297.96,511.95 298.7,512.16 299.43,512.31 300.17,512.4 300.9,512.44 301.63,512.43 302.37,512.37 303.1,512.27 303.83,512.12 304.57,511.92 305.3,511.68 306.03,511.39 306.77,511.05 307.5,510.67 308.23,510.24 308.97,509.77 309.7,509.25 310.43,508.69 311.17,508.08 311.9,507.43 312.63,506.73 313.37,505.99 314.1,505.21 314.83,504.38 315.57,503.51 316.3,502.6 317.04,501.65 317.77,500.65 318.5,499.62 319.24,498.54 319.97,497.42 320.7,496.27 321.44,495.07 322.17,493.83 322.9,492.56 323.64,491.25 324.37,489.9 325.1,488.52 325.84,487.1 326.57,485.64 327.3,484.15 328.04,482.63 328.77,481.08 329.5,479.49 330.24,477.87 330.97,476.22 331.7,474.53 332.44,472.82 333.17,471.08 333.91,469.32 334.64,467.52 335.37,465.7 336.11,463.85 336.84,461.98 337.57,460.09 338.31,458.17 339.04,456.23 339.77,454.26 340.51,452.28 341.24,450.28 341.97,448.26 342.71,446.22 343.44,444.17 344.17,442.09 344.91,440.01 345.64,437.91 346.37,435.79 347.11,433.67 347.84,431.53 348.57,429.38 349.31,427.23 350.04,425.06 350.78,422.89 351.51,420.71 352.24,418.53 352.98,416.34 353.71,414.14 354.44,411.95 355.18,409.75 355.91,407.68 356.64,405.8 357.38,403.91 358.11,402.04 358.84,400.16 359.58,398.29 360.31,396.42 361.04,394.55 361.78,392.69 362.51,390.84 363.24,388.99 363.98,387.15 364.71,385.32 365.44,383.49 366.18,381.68 366.91,379.87 367.65,378.08 368.38,376.3 369.11,374.53 369.85,372.77 370.58,371.03 371.31,369.3 372.05,367.58 372.78,365.88 373.51,364.2 374.25,362.53 374.98,360.88 375.71,359.25 376.45,357.63 377.18,356.04 377.91,354.46 378.65,352.91 379.38,351.37 380.11,349.86 380.85,348.37 381.58,346.9 382.31,345.46 383.05,344.04 383.78,342.64 384.52,341.27 385.25,339.92 385.98,338.6 386.72,337.3 387.45,336.03 388.18,334.79 388.92,333.58 389.65,332.39 390.38,331.23 391.12,330.1 391.85,329 392.58,327.93 393.32,326.9 394.05,325.89 394.78,324.91 395.52,323.96 396.25,323.05 396.98,322.17 397.72,321.32 398.45,320.5 399.18,319.71 399.92,318.96 400.65,318.24 401.38,317.56 402.12,316.91 402.85,316.29 403.59,315.71 404.32,315.17 405.05,314.66 405.79,314.18 406.52,313.74 407.25,313.34 407.99,312.97 408.72,312.63 409.45,312.33 410.19,312.07 410.92,311.85 411.65,311.66 412.39,311.51 413.12,311.39 413.85,311.31 414.59,311.27 415.32,311.26 416.05,311.3 416.79,311.39 417.52,311.54 418.25,311.73 418.99,311.97 419.72,312.27 420.46,312.62 421.19,313.01 421.92,313.46 422.66,313.96 423.39,314.5 424.12,315.1 424.86,315.74 425.59,316.44 426.32,317.18 427.06,317.97 427.79,318.8 428.52,319.69 429.26,320.62 429.99,321.6 430.72,322.62 431.46,323.69 432.19,324.8 432.92,325.96 433.66,327.16 434.39,328.4 435.12,329.68 435.86,331.01 436.59,332.38 437.33,333.78 438.06,335.23 438.79,336.71 439.53,338.23 440.26,339.79 440.99,341.39 441.73,343.02 442.46,344.68 443.19,346.38 443.93,348.11 444.66,349.87 445.39,351.67 446.13,353.49 446.86,355.34 447.59,357.22 448.33,359.13 449.06,361.06 449.79,363.02 450.53,365 451.26,367.01 451.99,369.03 452.73,371.08 453.46,373.14 454.2,375.23 454.93,377.33 455.66,379.45 456.4,381.58 457.13,383.73 457.86,385.89 458.6,388.07 459.33,390.25 460.06,392.44 460.8,394.64 461.53,396.85 462.26,399.07 463,401.29 463.73,403.51 464.46,405.74 465.2,407.96 465.93,410.33 466.66,412.74 467.4,415.14 468.13,417.54 468.86,419.93 469.6,422.32 470.33,424.7 471.07,427.07 471.8,429.43 472.53,431.78 473.27,434.12 474,436.44 474.73,438.75 475.47,441.04 476.2,443.32 476.93,445.57 477.67,447.81 478.4,450.03 479.13,452.22 479.87,454.39 480.6,456.53 481.33,458.65 482.07,460.75 482.8,462.81 483.53,464.85 484.27,466.85 485,468.82 485.73,470.77 486.47,472.68 487.2,474.55 487.94,476.39 488.67,478.19 489.4,479.96 490.14,481.68 490.87,483.37 491.6,485.02 492.34,486.62 493.07,488.19 493.8,489.71 494.54,491.19 495.27,492.63 496,494.02 496.74,495.36 497.47,496.66 498.2,497.91 498.94,499.11 499.67,500.26 500.4,501.37 501.14,502.42 501.87,503.43 502.6,504.38 503.34,505.28 504.07,506.14 504.81,506.93 505.54,507.68 506.27,508.37 507.01,509.01 507.74,509.6 508.47,510.13 509.21,510.61 509.94,511.03 510.67,511.4 511.41,511.71 512.14,511.97 512.87,512.17 513.61,512.32 514.34,512.41 515.07,512.44 515.81,512.43 516.54,512.37 517.27,512.27 518.01,512.12 518.74,511.93 519.47,511.69 520.21,511.41 520.94,511.09 521.68,510.72 522.41,510.31 523.14,509.86 523.88,509.36 524.61,508.82 525.34,508.24 526.08,507.62 526.81,506.95 527.54,506.25 528.28,505.5 529.01,504.71 529.74,503.88 530.48,503.01 531.21,502.1 531.94,501.15 532.68,500.16 533.41,499.13 534.14,498.06 534.88,496.95 535.61,495.81 536.34,494.63 537.08,493.42 537.81,492.16 538.55,490.88 539.28,489.55 540.01,488.2 540.75,486.81 541.48,485.38 542.21,483.92 542.95,482.44 543.68,480.92 544.41,479.37 545.15,477.78 545.88,476.17 546.61,474.54 547.35,472.87 548.08,471.18 548.81,469.45 549.55,467.71 550.28,465.94 551.01,464.14 551.75,462.32 552.48,460.48 553.21,458.61 553.95,456.73 554.68,454.82 555.42,452.9 556.15,450.95 556.88,448.99 557.62,447.01 558.35,445.01 559.08,443 559.82,440.98 560.55,438.94 561.28,436.88 562.02,434.82 562.75,432.74 563.48,430.65 564.22,428.56 564.95,426.45 565.68,424.34 566.42,422.22 567.15,420.1 567.88,417.97 568.62,415.83 569.35,413.7 570.08,411.56 570.82,409.42 571.55,407.42 572.28,405.56 573.02,403.7 573.75,401.84 574.49,399.98 575.22,398.13 575.95,396.28 576.69,394.43 577.42,392.59 578.15,390.76 578.89,388.93 579.62,387.11 580.35,385.29 581.09,383.49 581.82,381.69 582.55,379.91 583.29,378.13 584.02,376.37 584.75,374.62 585.49,372.88 586.22,371.15 586.95,369.43 587.69,367.74 588.42,366.05 589.15,364.38 589.89,362.73 590.62,361.1 591.36,359.48 592.09,357.88 592.82,356.3 593.56,354.73 594.29,353.19 595.02,351.67 595.76,350.17 596.49,348.69 597.22,347.23 597.96,345.79 598.69,344.38 599.42,342.99 600.16,341.63 600.89,340.29 601.62,338.97 602.36,337.68 603.09,336.42 603.82,335.18 604.56,333.97 605.29,332.78 606.02,331.63 606.76,330.5 607.49,329.4 608.23,328.33 608.96,327.29 609.69,326.28 610.43,325.3 611.16,324.35 611.89,323.44 612.63,322.55 613.36,321.69 614.09,320.87 614.83,320.08 615.56,319.32 616.29,318.59 617.03,317.9 617.76,317.24 618.49,316.61 619.23,316.02 619.96,315.46 620.69,314.93 621.43,314.44 622.16,313.99 622.89,313.57 623.63,313.18 624.36,312.83 625.1,312.51 625.83,312.23 626.56,311.99 627.3,311.78 628.03,311.6 628.76,311.46 629.5,311.36 630.23,311.29 630.96,311.26 631.7,311.27 632.43,311.32 633.16,311.43 633.9,311.58 634.63,311.79 635.36,312.04 636.1,312.34 636.83,312.7 637.56,313.1 638.3,313.55 639.03,314.05 639.76,314.59 640.5,315.19 641.23,315.83 641.97,316.53 642.7,317.26 643.43,318.05 644.17,318.88 644.9,319.76 645.63,320.68 646.37,321.65 647.1,322.66 647.83,323.72 648.57,324.82 649.3,325.96" fill="none" stroke="#111111" stroke-width="6.0" stroke-linejoin="round" stroke-linecap="round" />
<polyline points="136.6,400.39 137.33,402.11 138.07,403.69 138.8,404.97 139.53,405.63 140.27,405.41 141,404.57 141.73,403.39 142.47,402.04 143.2,400.6 143.93,399.11 144.67,397.59 145.4,396.05 146.14,394.51 146.87,392.96 147.6,391.41 148.34,389.86 149.07,388.31 149.8,386.77 150.54,385.23 151.27,383.7 152,382.17 152.74,380.66 153.47,379.15 154.2,377.65 154.94,376.16 155.67,374.68 156.4,373.22 157.14,371.76 157.87,370.32 158.6,368.9 159.34,367.48 160.07,366.08 160.8,364.7 161.54,363.33 162.27,361.98 163.01,360.64 163.74,359.32 164.47,358.02 165.21,356.74 165.94,355.48 166.67,354.23 167.41,353 168.14,351.8 168.87,350.61 169.61,349.44 170.34,348.3 171.07,347.18 171.81,346.08 172.54,345 173.27,343.94 174.01,342.91 174.74,341.9 175.47,340.92 176.21,339.96 176.94,339.02 177.67,338.11 178.41,337.23 179.14,336.37 179.88,335.53 180.61,334.73 181.34,333.94 182.08,333.19 182.81,332.46 183.54,331.76 184.28,331.09 185.01,330.45 185.74,329.83 186.48,329.24 187.21,328.68 187.94,328.15 188.68,327.65 189.41,327.18 190.14,326.73 190.88,326.32 191.61,325.93 192.34,325.58 193.08,325.25 193.81,324.96 194.54,324.69 195.28,324.46 196.01,324.25 196.75,324.08 197.48,323.93 198.21,323.82 198.95,323.74 199.68,323.68 200.41,323.66 201.15,323.67 201.88,323.73 202.61,323.83 203.35,323.97 204.08,324.16 204.81,324.4 205.55,324.67 206.28,325 207.01,325.36 207.75,325.77 208.48,326.22 209.21,326.72 209.95,327.26 210.68,327.84 211.41,328.46 212.15,329.13 212.88,329.83 213.62,330.58 214.35,331.37 215.08,332.2 215.82,333.07 216.55,333.98 217.28,334.92 218.02,335.91 218.75,336.93 219.48,338 220.22,339.1 220.95,340.23 221.68,341.4 222.42,342.61 223.15,343.85 223.88,345.12 224.62,346.43 225.35,347.77 226.08,349.14 226.82,350.54 227.55,351.98 228.28,353.44 229.02,354.93 229.75,356.45 230.48,358 231.22,359.57 231.95,361.17 232.69,362.79 233.42,364.44 234.15,366.11 234.89,367.8 235.62,369.51 236.35,371.24 237.09,372.99 237.82,374.76 238.55,376.55 239.29,378.35 240.02,380.17 240.75,381.99 241.49,383.84 242.22,385.69 242.95,387.55 243.69,389.41 244.42,391.28 245.15,393.16 245.89,395.03 246.62,396.89 247.35,398.73 248.09,400.53 248.82,402.27 249.56,403.86 250.29,405.12 251.02,405.65 251.76,405.12 252.49,403.8 253.22,402.11 253.96,400.28 254.69,398.36 255.42,396.41 256.16,394.44 256.89,392.46 257.62,390.48 258.36,388.5 259.09,386.52 259.82,384.55 260.56,382.59 261.29,380.65 262.02,378.71 262.76,376.79 263.49,374.88 264.22,372.99 264.96,371.12 265.69,369.27 266.43,367.44 267.16,365.63 267.89,363.84 268.63,362.08 269.36,360.34 270.09,358.62 270.83,356.94 271.56,355.28 272.29,353.64 273.03,352.04 273.76,350.47 274.49,348.93 275.23,347.41 275.96,345.94 276.69,344.49 277.43,343.08 278.16,341.71 278.89,340.37 279.63,339.06 280.36,337.8 281.09,336.57 281.83,335.38 282.56,334.23 283.3,333.11 284.03,332.04 284.76,331.01 285.5,330.02 286.23,329.07 286.96,328.17 287.7,327.31 288.43,326.49 289.16,325.71 289.9,324.98 290.63,324.3 291.36,323.65 292.1,323.06 292.83,322.51 293.56,322 294.3,321.54 295.03,321.13 295.76,320.77 296.5,320.45 297.23,320.18 297.96,319.95 298.7,319.77 299.43,319.64 300.17,319.56 300.9,319.53 301.63,319.54 302.37,319.59 303.1,319.68 303.83,319.81 304.57,319.98 305.3,320.19 306.03,320.44 306.77,320.73 307.5,321.05 308.23,321.42 308.97,321.83 309.7,322.27 310.43,322.76 311.17,323.28 311.9,323.84 312.63,324.44 313.37,325.08 314.1,325.75 314.83,326.46 315.57,327.21 316.3,328 317.04,328.82 317.77,329.68 318.5,330.57 319.24,331.49 319.97,332.46 320.7,333.45 321.44,334.48 322.17,335.54 322.9,336.64 323.64,337.77 324.37,338.93 325.1,340.12 325.84,341.34 326.57,342.59 327.3,343.87 328.04,345.18 328.77,346.52 329.5,347.89 330.24,349.28 330.97,350.7 331.7,352.15 332.44,353.62 333.17,355.11 333.91,356.63 334.64,358.18 335.37,359.74 336.11,361.33 336.84,362.94 337.57,364.56 338.31,366.21 339.04,367.88 339.77,369.56 340.51,371.26 341.24,372.98 341.97,374.71 342.71,376.46 343.44,378.22 344.17,379.99 344.91,381.77 345.64,383.57 346.37,385.37 347.11,387.18 347.84,388.99 348.57,390.81 349.31,392.63 350.04,394.44 350.78,396.25 351.51,398.04 352.24,399.81 352.98,401.52 353.71,403.13 354.44,404.53 355.18,405.47 355.91,405.59 356.64,404.95 357.38,403.85 358.11,402.51 358.84,401.06 359.58,399.54 360.31,397.99 361.04,396.42 361.78,394.84 362.51,393.26 363.24,391.67 363.98,390.08 364.71,388.5 365.44,386.91 366.18,385.34 366.91,383.77 367.65,382.21 368.38,380.65 369.11,379.11 369.85,377.58 370.58,376.05 371.31,374.54 372.05,373.04 372.78,371.55 373.51,370.08 374.25,368.62 374.98,367.18 375.71,365.75 376.45,364.33 377.18,362.94 377.91,361.56 378.65,360.19 379.38,358.85 380.11,357.52 380.85,356.22 381.58,354.93 382.31,353.66 383.05,352.42 383.78,351.19 384.52,349.99 385.25,348.81 385.98,347.65 386.72,346.51 387.45,345.4 388.18,344.31 388.92,343.24 389.65,342.2 390.38,341.19 391.12,340.2 391.85,339.23 392.58,338.29 393.32,337.38 394.05,336.5 394.78,335.64 395.52,334.81 396.25,334.01 396.98,333.23 397.72,332.49 398.45,331.77 399.18,331.08 399.92,330.42 400.65,329.79 401.38,329.19 402.12,328.62 402.85,328.08 403.59,327.57 404.32,327.09 405.05,326.64 405.79,326.23 406.52,325.84 407.25,325.48 407.99,325.16 408.72,324.87 409.45,324.61 410.19,324.38 410.92,324.18 411.65,324.01 412.39,323.88 413.12,323.78 413.85,323.71 414.59,323.67 415.32,323.66 416.05,323.7 416.79,323.78 417.52,323.9 418.25,324.07 418.99,324.29 419.72,324.55 420.46,324.85 421.19,325.2 421.92,325.59 422.66,326.03 423.39,326.51 424.12,327.03 424.86,327.6 425.59,328.2 426.32,328.86 427.06,329.55 427.79,330.28 428.52,331.06 429.26,331.88 429.99,332.73 430.72,333.63 431.46,334.57 432.19,335.54 432.92,336.56 433.66,337.61 434.39,338.7 435.12,339.83 435.86,340.99 436.59,342.19 437.33,343.42 438.06,344.69 438.79,346 439.53,347.33 440.26,348.7 440.99,350.1 441.73,351.53 442.46,352.99 443.19,354.47 443.93,355.99 444.66,357.54 445.39,359.11 446.13,360.71 446.86,362.33 447.59,363.97 448.33,365.64 449.06,367.34 449.79,369.05 450.53,370.78 451.26,372.54 451.99,374.31 452.73,376.1 453.46,377.9 454.2,379.72 454.93,381.55 455.66,383.4 456.4,385.26 457.13,387.12 457.86,389 458.6,390.87 459.33,392.75 460.06,394.63 460.8,396.5 461.53,398.36 462.26,400.18 463,401.94 463.73,403.57 464.46,404.92 465.2,405.63 465.93,405.28 466.66,404.06 467.4,402.42 468.13,400.59 468.86,398.68 469.6,396.72 470.33,394.75 471.07,392.76 471.8,390.77 472.53,388.78 473.27,386.79 474,384.82 474.73,382.85 475.47,380.89 476.2,378.94 476.93,377.01 477.67,375.1 478.4,373.2 479.13,371.32 479.87,369.46 480.6,367.62 481.33,365.8 482.07,364 482.8,362.22 483.53,360.48 484.27,358.75 485,357.06 485.73,355.39 486.47,353.75 487.2,352.13 487.94,350.55 488.67,349 489.4,347.48 490.14,346 490.87,344.55 491.6,343.13 492.34,341.75 493.07,340.4 493.8,339.09 494.54,337.82 495.27,336.58 496,335.39 496.74,334.23 497.47,333.12 498.2,332.04 498.94,331 499.67,330.01 500.4,329.06 501.14,328.15 501.87,327.29 502.6,326.47 503.34,325.69 504.07,324.96 504.81,324.27 505.54,323.63 506.27,323.03 507.01,322.48 507.74,321.98 508.47,321.52 509.21,321.11 509.94,320.74 510.67,320.43 511.41,320.16 512.14,319.94 512.87,319.76 513.61,319.63 514.34,319.56 515.07,319.53 515.81,319.54 516.54,319.59 517.27,319.68 518.01,319.81 518.74,319.97 519.47,320.18 520.21,320.42 520.94,320.69 521.68,321.01 522.41,321.36 523.14,321.75 523.88,322.18 524.61,322.64 525.34,323.14 526.08,323.68 526.81,324.25 527.54,324.86 528.28,325.51 529.01,326.19 529.74,326.9 530.48,327.65 531.21,328.43 531.94,329.25 532.68,330.1 533.41,330.99 534.14,331.91 534.88,332.86 535.61,333.84 536.34,334.86 537.08,335.9 537.81,336.98 538.55,338.09 539.28,339.23 540.01,340.4 540.75,341.59 541.48,342.82 542.21,344.07 542.95,345.35 543.68,346.66 544.41,347.99 545.15,349.35 545.88,350.74 546.61,352.15 547.35,353.58 548.08,355.04 548.81,356.51 549.55,358.02 550.28,359.54 551.01,361.08 551.75,362.64 552.48,364.23 553.21,365.83 553.95,367.45 554.68,369.08 555.42,370.74 556.15,372.4 556.88,374.09 557.62,375.78 558.35,377.49 559.08,379.21 559.82,380.95 560.55,382.69 561.28,384.44 562.02,386.2 562.75,387.96 563.48,389.73 564.22,391.51 564.95,393.28 565.68,395.05 566.42,396.8 567.15,398.54 567.88,400.25 568.62,401.9 569.35,403.44 570.08,404.74 570.82,405.55 571.55,405.54 572.28,404.83 573.02,403.7 573.75,402.36 574.49,400.92 575.22,399.41 575.95,397.88 576.69,396.32 577.42,394.76 578.15,393.19 578.89,391.62 579.62,390.05 580.35,388.48 581.09,386.91 581.82,385.35 582.55,383.8 583.29,382.25 584.02,380.71 584.75,379.19 585.49,377.67 586.22,376.16 586.95,374.66 587.69,373.18 588.42,371.7 589.15,370.24 589.89,368.8 590.62,367.37 591.36,365.95 592.09,364.55 592.82,363.16 593.56,361.79 594.29,360.44 595.02,359.11 595.76,357.79 596.49,356.49 597.22,355.22 597.96,353.96 598.69,352.72 599.42,351.5 600.16,350.3 600.89,349.13 601.62,347.97 602.36,346.84 603.09,345.73 603.82,344.65 604.56,343.59 605.29,342.55 606.02,341.54 606.76,340.55 607.49,339.58 608.23,338.64 608.96,337.73 609.69,336.85 610.43,335.99 611.16,335.15 611.89,334.35 612.63,333.57 613.36,332.82 614.09,332.09 614.83,331.4 615.56,330.73 616.29,330.1 617.03,329.49 617.76,328.91 618.49,328.36 619.23,327.84 619.96,327.35 620.69,326.89 621.43,326.46 622.16,326.06 622.89,325.69 623.63,325.35 624.36,325.04 625.1,324.76 625.83,324.51 626.56,324.3 627.3,324.11 628.03,323.96 628.76,323.84 629.5,323.75 630.23,323.69 630.96,323.66 631.7,323.67 632.43,323.72 633.16,323.81 633.9,323.94 634.63,324.12 635.36,324.35 636.1,324.61 636.83,324.92 637.56,325.27 638.3,325.67 639.03,326.11 639.76,326.59 640.5,327.11 641.23,327.68 641.97,328.28 642.7,328.93 643.43,329.62 644.17,330.35 644.9,331.12 645.63,331.93 646.37,332.78 647.1,333.67 647.83,334.59 648.57,335.56 649.3,336.56" fill="none" stroke="#e02a1e" stroke-width="6.0" stroke-linejoin="round" stroke-linecap="round" />
<polyline points="136.6,348.07 137.33,348.19 138.07,348.3 138.8,348.37 139.53,348.21 140.27,348.25 141,348.15 141.73,348.29 142.47,348.3 143.2,348.46 143.93,348.39 144.67,348.36 145.4,348.3 146.14,348.17 146.87,348.04 147.6,348.02 148.34,348.22 149.07,347.96 149.8,347.86 150.54,347.96 151.27,347.97 152,347.93 152.74,347.89 153.47,347.89 154.2,347.68 154.94,347.67 155.67,347.61 156.4,347.45 157.14,347.25 157.87,347.16 158.6,347.13 159.34,347.17 160.07,346.99 160.8,346.9 161.54,346.84 162.27,346.87 163.01,346.88 163.74,346.58 164.47,346.68 165.21,346.67 165.94,346.61 166.67,346.56 167.41,346.47 168.14,346.4 168.87,346.39 169.61,346.25 170.34,346.24 171.07,346.36 171.81,346.46 172.54,346.55 173.27,346.59 174.01,346.69 174.74,346.67 175.47,346.61 176.21,346.66 176.94,346.67 177.67,346.58 178.41,346.58 179.14,346.57 179.88,346.63 180.61,346.68 181.34,346.68 182.08,346.58 182.81,346.54 183.54,346.5 184.28,346.42 185.01,346.55 185.74,346.55 186.48,346.35 187.21,346.17 187.94,346.03 188.68,345.97 189.41,345.79 190.14,345.71 190.88,345.81 191.61,345.79 192.34,345.71 193.08,345.64 193.81,345.5 194.54,345.6 195.28,345.52 196.01,345.4 196.75,345.4 197.48,345.43 198.21,345.49 198.95,345.47 199.68,345.38 200.41,345.38 201.15,345.37 201.88,345.39 202.61,345.58 203.35,345.72 204.08,345.73 204.81,345.59 205.55,345.72 206.28,345.8 207.01,345.85 207.75,345.98 208.48,346.02 209.21,346.1 209.95,346.06 210.68,346 211.41,346.11 212.15,346.16 212.88,346.25 213.62,346.25 214.35,346.23 215.08,346.4 215.82,346.34 216.55,346.31 217.28,346.31 218.02,346.13 218.75,346.03 219.48,346.16 220.22,346.31 220.95,346.29 221.68,346.3 222.42,346.36 223.15,346.36 223.88,346.44 224.62,346.47 225.35,346.56 226.08,346.65 226.82,346.71 227.55,346.69 228.28,346.64 229.02,346.76 229.75,346.87 230.48,346.68 231.22,346.79 231.95,346.9 232.69,346.94 233.42,347.18 234.15,347.37 234.89,347.43 235.62,347.61 236.35,347.69 237.09,347.64 237.82,347.65 238.55,347.8 239.29,347.87 240.02,347.85 240.75,347.88 241.49,348.04 242.22,348.09 242.95,348.32 243.69,348.44 244.42,348.43 245.15,348.49 245.89,348.54 246.62,348.5 247.35,348.5 248.09,348.57 248.82,348.5 249.56,348.47 250.29,348.36 251.02,348.11 251.76,348.19 252.49,348.3 253.22,348.24 253.96,348.11 254.69,348.05 255.42,348.14 256.16,348.13 256.89,347.97 257.62,347.98 258.36,347.74 259.09,347.74 259.82,347.56 260.56,347.43 261.29,347.53 262.02,347.56 262.76,347.56 263.49,347.57 264.22,347.55 264.96,347.37 265.69,347.33 266.43,347.53 267.16,347.46 267.89,347.29 268.63,347.08 269.36,347.16 270.09,347.19 270.83,347.08 271.56,347.12 272.29,347.02 273.03,346.88 273.76,346.82 274.49,346.57 275.23,346.62 275.96,346.55 276.69,346.39 277.43,346.41 278.16,346.39 278.89,346.2 279.63,346.08 280.36,346.12 281.09,346.15 281.83,345.93 282.56,345.82 283.3,345.7 284.03,345.73 284.76,345.58 285.5,345.52 286.23,345.48 286.96,345.4 287.7,345.4 288.43,345.37 289.16,345.33 289.9,345.41 290.63,345.36 291.36,345.45 292.1,345.45 292.83,345.29 293.56,345.3 294.3,345.38 295.03,345.39 295.76,345.36 296.5,345.24 297.23,345.31 297.96,345.35 298.7,345.39 299.43,345.37 300.17,345.53 300.9,345.73 301.63,345.71 302.37,345.72 303.1,345.78 303.83,345.91 304.57,345.94 305.3,346.02 306.03,346.09 306.77,345.98 307.5,345.87 308.23,345.87 308.97,345.73 309.7,345.79 310.43,345.79 311.17,345.84 311.9,345.79 312.63,345.75 313.37,345.75 314.1,345.84 314.83,346.03 315.57,345.87 316.3,345.59 317.04,345.66 317.77,345.58 318.5,345.67 319.24,345.5 319.97,345.48 320.7,345.57 321.44,345.42 322.17,345.5 322.9,345.82 323.64,346.05 324.37,346.1 325.1,346.11 325.84,346.11 326.57,346.25 327.3,346.37 328.04,346.38 328.77,346.46 329.5,346.49 330.24,346.51 330.97,346.58 331.7,346.71 332.44,346.57 333.17,346.75 333.91,346.62 334.64,346.65 335.37,346.85 336.11,346.82 336.84,346.84 337.57,346.83 338.31,346.98 339.04,346.95 339.77,347.2 340.51,347.22 341.24,347.41 341.97,347.4 342.71,347.51 343.44,347.62 344.17,347.66 344.91,347.83 345.64,347.87 346.37,347.92 347.11,348.05 347.84,348.18 348.57,348.25 349.31,348.32 350.04,348.48 350.78,348.31 351.51,348.39 352.24,348.63 352.98,348.83 353.71,348.48 354.44,348.43 355.18,348.38 355.91,348.43 356.64,348.45 357.38,348.29 358.11,348.18 358.84,348.34 359.58,348.27 360.31,348.11 361.04,348.07 361.78,348.04 362.51,347.95 363.24,347.98 363.98,347.81 364.71,347.85 365.44,347.75 366.18,347.81 366.91,347.72 367.65,347.67 368.38,347.59 369.11,347.67 369.85,347.6 370.58,347.64 371.31,347.61 372.05,347.38 372.78,347.37 373.51,347.4 374.25,347.1 374.98,347.13 375.71,347.2 376.45,347.01 377.18,347.02 377.91,346.98 378.65,347.07 379.38,347.11 380.11,347.1 380.85,347.09 381.58,347.19 382.31,347.07 383.05,347.01 383.78,346.94 384.52,346.97 385.25,346.94 385.98,346.62 386.72,346.58 387.45,346.53 388.18,346.45 388.92,346.27 389.65,346.33 390.38,346.34 391.12,346.21 391.85,346.36 392.58,346.3 393.32,346.4 394.05,346.29 394.78,346.18 395.52,346.15 396.25,346.11 396.98,345.84 397.72,345.89 398.45,345.91 399.18,345.68 399.92,345.78 400.65,345.9 401.38,345.97 402.12,345.98 402.85,346.26 403.59,346.35 404.32,346.39 405.05,346.46 405.79,346.24 406.52,346.25 407.25,346.13 407.99,346.26 408.72,346.12 409.45,345.98 410.19,345.85 410.92,345.68 411.65,345.7 412.39,345.81 413.12,345.87 413.85,345.74 414.59,345.96 415.32,345.8 416.05,345.88 416.79,346.02 417.52,345.85 418.25,345.68 418.99,345.68 419.72,345.91 420.46,345.85 421.19,345.81 421.92,345.96 422.66,346.23 423.39,346.13 424.12,346.17 424.86,346.31 425.59,346.55 426.32,346.76 427.06,346.85 427.79,346.83 428.52,346.8 429.26,346.83 429.99,346.87 430.72,346.84 431.46,346.74 432.19,346.64 432.92,346.72 433.66,346.74 434.39,346.8 435.12,346.78 435.86,346.8 436.59,346.92 437.33,346.89 438.06,346.75 438.79,346.9 439.53,347 440.26,346.99 440.99,346.84 441.73,346.81 442.46,346.89 443.19,347.01 443.93,347.17 444.66,347.31 445.39,347.14 446.13,347.22 446.86,347.26 447.59,347.25 448.33,347.41 449.06,347.45 449.79,347.47 450.53,347.38 451.26,347.56 451.99,347.63 452.73,347.58 453.46,347.81 454.2,347.94 454.93,347.97 455.66,347.95 456.4,348.1 457.13,348.08 457.86,347.96 458.6,347.92 459.33,347.89 460.06,347.95 460.8,348.1 461.53,348.11 462.26,348.08 463,348.15 463.73,348.18 464.46,348.13 465.2,348.11 465.93,348.06 466.66,348.14 467.4,348.1 468.13,348.33 468.86,348.12 469.6,347.94 470.33,347.83 471.07,347.94 471.8,347.92 472.53,347.91 473.27,347.88 474,347.95 474.73,348.03 475.47,347.99 476.2,347.92 476.93,347.96 477.67,347.91 478.4,347.9 479.13,347.87 479.87,347.8 480.6,347.64 481.33,347.66 482.07,347.42 482.8,347.36 483.53,347.21 484.27,347.24 485,347.04 485.73,346.93 486.47,346.88 487.2,346.86 487.94,346.8 488.67,346.89 489.4,346.82 490.14,346.61 490.87,346.69 491.6,346.65 492.34,346.5 493.07,346.42 493.8,346.47 494.54,346.47 495.27,346.59 496,346.79 496.74,346.61 497.47,346.66 498.2,346.73 498.94,346.6 499.67,346.49 500.4,346.45 501.14,346.59 501.87,346.48 502.6,346.4 503.34,346.51 504.07,346.38 504.81,346.44 505.54,346.3 506.27,346.17 507.01,346.13 507.74,346.09 508.47,346.21 509.21,346.17 509.94,346.06 510.67,346.07 511.41,345.91 512.14,346.05 512.87,346.03 513.61,346.06 514.34,346.02 515.07,346.16 515.81,346.14 516.54,346.12 517.27,346.2 518.01,346.28 518.74,346.07 519.47,346.02 520.21,345.82 520.94,345.9 521.68,345.84 522.41,345.79 523.14,345.84 523.88,345.76 524.61,345.66 525.34,345.62 526.08,345.52 526.81,345.61 527.54,345.74 528.28,345.54 529.01,345.59 529.74,345.82 530.48,345.77 531.21,345.76 531.94,345.62 532.68,345.66 533.41,345.59 534.14,345.72 534.88,345.95 535.61,346.09 536.34,346.13 537.08,346.07 537.81,346.31 538.55,346.55 539.28,346.73 540.01,346.77 540.75,346.85 541.48,346.89 542.21,346.9 542.95,346.84 543.68,347.13 544.41,347.04 545.15,346.89 545.88,346.83 546.61,346.93 547.35,347.16 548.08,347.33 548.81,347.54 549.55,347.43 550.28,347.4 551.01,347.4 551.75,347.47 552.48,347.56 553.21,347.29 553.95,347.22 554.68,347.17 555.42,347.3 556.15,347.34 556.88,347.37 557.62,347.51 558.35,347.44 559.08,347.31 559.82,347.36 560.55,347.45 561.28,347.56 562.02,347.83 562.75,347.73 563.48,347.67 564.22,347.62 564.95,347.74 565.68,347.77 566.42,347.87 567.15,347.83 567.88,347.77 568.62,348.08 569.35,347.97 570.08,348.01 570.82,347.94 571.55,347.93 572.28,348.05 573.02,347.89 573.75,347.84 574.49,347.91 575.22,347.9 575.95,347.96 576.69,347.78 577.42,347.62 578.15,347.74 578.89,347.57 579.62,347.61 580.35,347.69 581.09,347.74 581.82,347.55 582.55,347.4 583.29,347.54 584.02,347.49 584.75,347.57 585.49,347.51 586.22,347.44 586.95,347.31 587.69,347.25 588.42,347.24 589.15,347.46 589.89,347.29 590.62,347.27 591.36,347.18 592.09,347.15 592.82,347.11 593.56,346.86 594.29,346.79 595.02,346.5 595.76,346.47 596.49,346.26 597.22,346.29 597.96,346.43 598.69,346.23 599.42,346.19 600.16,346.04 600.89,345.86 601.62,346.02 602.36,346.17 603.09,346.13 603.82,346.18 604.56,345.98 605.29,346.09 606.02,346.05 606.76,346.01 607.49,346.11 608.23,346.05 608.96,346.08 609.69,346.2 610.43,346.32 611.16,346.3 611.89,346.31 612.63,346.43 613.36,346.34 614.09,346.39 614.83,346.34 615.56,346.46 616.29,346.59 617.03,346.48 617.76,346.52 618.49,346.32 619.23,346.03 619.96,346.15 620.69,346.22 621.43,346.18 622.16,346.09 622.89,346.2 623.63,346.38 624.36,346.39 625.1,346.48 625.83,346.37 626.56,346.34 627.3,346.32 628.03,346.21 628.76,346.33 629.5,346.39 630.23,346.4 630.96,346.25 631.7,346.23 632.43,346.18 633.16,346.11 633.9,346.28 634.63,346.58 635.36,346.49 636.1,346.27 636.83,346.23 637.56,346.26 638.3,346.02 639.03,345.8 639.76,345.83 640.5,345.7 641.23,345.89 641.97,345.84 642.7,345.88 643.43,346 644.17,346.06 644.9,345.92 645.63,345.89 646.37,345.96 647.1,345.95 647.83,345.99 648.57,345.93 649.3,345.82" fill="none" stroke="#3a67a5" stroke-width="6.0" stroke-linejoin="round" stroke-linecap="round" />
</g>
<rect x="136.6" y="41" width="512.7" height="495.5" fill="none" stroke="#111111" stroke-width="3.6"/>
<line x1="136.6" y1="289" x2="649.3" y2="289" stroke="#111111" stroke-width="3.6" />
<line x1="136.6" y1="275.4" x2="146.1" y2="275.4" stroke="#111111" stroke-width="3.6" />
<line x1="136.6" y1="261.6" x2="146.1" y2="261.6" stroke="#111111" stroke-width="3.6" />
<line x1="136.6" y1="247.8" x2="146.1" y2="247.8" stroke="#111111" stroke-width="3.6" />
<line x1="136.6" y1="234" x2="155.8" y2="234" stroke="#111111" stroke-width="3.6" />
<line x1="136.6" y1="220.2" x2="146.1" y2="220.2" stroke="#111111" stroke-width="3.6" />
<line x1="136.6" y1="206.4" x2="146.1" y2="206.4" stroke="#111111" stroke-width="3.6" />
<line x1="136.6" y1="192.6" x2="146.1" y2="192.6" stroke="#111111" stroke-width="3.6" />
<line x1="136.6" y1="178.8" x2="146.1" y2="178.8" stroke="#111111" stroke-width="3.6" />
<line x1="136.6" y1="165" x2="155.8" y2="165" stroke="#111111" stroke-width="3.6" />
<line x1="136.6" y1="151.2" x2="146.1" y2="151.2" stroke="#111111" stroke-width="3.6" />
<line x1="136.6" y1="137.4" x2="146.1" y2="137.4" stroke="#111111" stroke-width="3.6" />
<line x1="136.6" y1="123.6" x2="146.1" y2="123.6" stroke="#111111" stroke-width="3.6" />
<line x1="136.6" y1="109.8" x2="146.1" y2="109.8" stroke="#111111" stroke-width="3.6" />
<line x1="136.6" y1="96" x2="155.8" y2="96" stroke="#111111" stroke-width="3.6" />
<line x1="136.6" y1="82.2" x2="146.1" y2="82.2" stroke="#111111" stroke-width="3.6" />
<line x1="136.6" y1="68.4" x2="146.1" y2="68.4" stroke="#111111" stroke-width="3.6" />
<line x1="136.6" y1="54.6" x2="146.1" y2="54.6" stroke="#111111" stroke-width="3.6" />
<line x1="136.6" y1="526.22" x2="146.1" y2="526.22" stroke="#111111" stroke-width="3.6" />
<line x1="136.6" y1="509" x2="155.8" y2="509" stroke="#111111" stroke-width="3.6" />
<line x1="136.6" y1="491.77" x2="146.1" y2="491.77" stroke="#111111" stroke-width="3.6" />
<line x1="136.6" y1="474.55" x2="146.1" y2="474.55" stroke="#111111" stroke-width="3.6" />
<line x1="136.6" y1="457.32" x2="155.8" y2="457.32" stroke="#111111" stroke-width="3.6" />
<line x1="136.6" y1="440.1" x2="146.1" y2="440.1" stroke="#111111" stroke-width="3.6" />
<line x1="136.6" y1="422.88" x2="146.1" y2="422.88" stroke="#111111" stroke-width="3.6" />
<line x1="136.6" y1="405.65" x2="155.8" y2="405.65" stroke="#111111" stroke-width="3.6" />
<line x1="136.6" y1="388.42" x2="146.1" y2="388.42" stroke="#111111" stroke-width="3.6" />
<line x1="136.6" y1="371.2" x2="146.1" y2="371.2" stroke="#111111" stroke-width="3.6" />
<line x1="136.6" y1="353.97" x2="155.8" y2="353.97" stroke="#111111" stroke-width="3.6" />
<line x1="136.6" y1="336.75" x2="146.1" y2="336.75" stroke="#111111" stroke-width="3.6" />
<line x1="136.6" y1="319.52" x2="146.1" y2="319.52" stroke="#111111" stroke-width="3.6" />
<line x1="136.6" y1="302.3" x2="155.8" y2="302.3" stroke="#111111" stroke-width="3.6" />
<line x1="157.11" y1="289" x2="157.11" y2="279.5" stroke="#111111" stroke-width="3.6" />
<line x1="157.11" y1="536.5" x2="157.11" y2="527" stroke="#111111" stroke-width="3.6" />
<line x1="177.62" y1="289" x2="177.62" y2="279.5" stroke="#111111" stroke-width="3.6" />
<line x1="177.62" y1="536.5" x2="177.62" y2="527" stroke="#111111" stroke-width="3.6" />
<line x1="198.12" y1="289" x2="198.12" y2="279.5" stroke="#111111" stroke-width="3.6" />
<line x1="198.12" y1="536.5" x2="198.12" y2="527" stroke="#111111" stroke-width="3.6" />
<line x1="218.63" y1="289" x2="218.63" y2="279.5" stroke="#111111" stroke-width="3.6" />
<line x1="218.63" y1="536.5" x2="218.63" y2="527" stroke="#111111" stroke-width="3.6" />
<line x1="239.14" y1="289" x2="239.14" y2="269.8" stroke="#111111" stroke-width="3.6" />
<line x1="239.14" y1="536.5" x2="239.14" y2="517.3" stroke="#111111" stroke-width="3.6" />
<line x1="259.65" y1="289" x2="259.65" y2="279.5" stroke="#111111" stroke-width="3.6" />
<line x1="259.65" y1="536.5" x2="259.65" y2="527" stroke="#111111" stroke-width="3.6" />
<line x1="280.16" y1="289" x2="280.16" y2="279.5" stroke="#111111" stroke-width="3.6" />
<line x1="280.16" y1="536.5" x2="280.16" y2="527" stroke="#111111" stroke-width="3.6" />
<line x1="300.66" y1="289" x2="300.66" y2="279.5" stroke="#111111" stroke-width="3.6" />
<line x1="300.66" y1="536.5" x2="300.66" y2="527" stroke="#111111" stroke-width="3.6" />
<line x1="321.17" y1="289" x2="321.17" y2="279.5" stroke="#111111" stroke-width="3.6" />
<line x1="321.17" y1="536.5" x2="321.17" y2="527" stroke="#111111" stroke-width="3.6" />
<line x1="341.68" y1="289" x2="341.68" y2="269.8" stroke="#111111" stroke-width="3.6" />
<line x1="341.68" y1="536.5" x2="341.68" y2="517.3" stroke="#111111" stroke-width="3.6" />
<line x1="362.19" y1="289" x2="362.19" y2="279.5" stroke="#111111" stroke-width="3.6" />
<line x1="362.19" y1="536.5" x2="362.19" y2="527" stroke="#111111" stroke-width="3.6" />
<line x1="382.7" y1="289" x2="382.7" y2="279.5" stroke="#111111" stroke-width="3.6" />
<line x1="382.7" y1="536.5" x2="382.7" y2="527" stroke="#111111" stroke-width="3.6" />
<line x1="403.2" y1="289" x2="403.2" y2="279.5" stroke="#111111" stroke-width="3.6" />
<line x1="403.2" y1="536.5" x2="403.2" y2="527" stroke="#111111" stroke-width="3.6" />
<line x1="423.71" y1="289" x2="423.71" y2="279.5" stroke="#111111" stroke-width="3.6" />
<line x1="423.71" y1="536.5" x2="423.71" y2="527" stroke="#111111" stroke-width="3.6" />
<line x1="444.22" y1="289" x2="444.22" y2="269.8" stroke="#111111" stroke-width="3.6" />
<line x1="444.22" y1="536.5" x2="444.22" y2="517.3" stroke="#111111" stroke-width="3.6" />
<line x1="464.73" y1="289" x2="464.73" y2="279.5" stroke="#111111" stroke-width="3.6" />
<line x1="464.73" y1="536.5" x2="464.73" y2="527" stroke="#111111" stroke-width="3.6" />
<line x1="485.24" y1="289" x2="485.24" y2="279.5" stroke="#111111" stroke-width="3.6" />
<line x1="485.24" y1="536.5" x2="485.24" y2="527" stroke="#111111" stroke-width="3.6" />
<line x1="505.74" y1="289" x2="505.74" y2="279.5" stroke="#111111" stroke-width="3.6" />
<line x1="505.74" y1="536.5" x2="505.74" y2="527" stroke="#111111" stroke-width="3.6" />
<line x1="526.25" y1="289" x2="526.25" y2="279.5" stroke="#111111" stroke-width="3.6" />
<line x1="526.25" y1="536.5" x2="526.25" y2="527" stroke="#111111" stroke-width="3.6" />
<line x1="546.76" y1="289" x2="546.76" y2="269.8" stroke="#111111" stroke-width="3.6" />
<line x1="546.76" y1="536.5" x2="546.76" y2="517.3" stroke="#111111" stroke-width="3.6" />
<line x1="567.27" y1="289" x2="567.27" y2="279.5" stroke="#111111" stroke-width="3.6" />
<line x1="567.27" y1="536.5" x2="567.27" y2="527" stroke="#111111" stroke-width="3.6" />
<line x1="587.78" y1="289" x2="587.78" y2="279.5" stroke="#111111" stroke-width="3.6" />
<line x1="587.78" y1="536.5" x2="587.78" y2="527" stroke="#111111" stroke-width="3.6" />
<line x1="608.28" y1="289" x2="608.28" y2="279.5" stroke="#111111" stroke-width="3.6" />
<line x1="608.28" y1="536.5" x2="608.28" y2="527" stroke="#111111" stroke-width="3.6" />
<line x1="628.79" y1="289" x2="628.79" y2="279.5" stroke="#111111" stroke-width="3.6" />
<line x1="628.79" y1="536.5" x2="628.79" y2="527" stroke="#111111" stroke-width="3.6" />
<g transform="translate(95.93,107) scale(1,1.02)"><path d="M0.373,0 L0.285,0 L0.285,0.561 C0.264,0.541 0.236,0.521 0.201,0.500 C0.167,0.480 0.136,0.465 0.109,0.455 L0.109,0.540 C0.158,0.563 0.201,0.591 0.238,0.624 C0.275,0.657 0.301,0.689 0.316,0.716 L0.373,0.716 Z" transform="translate(0,0) scale(35,-35)" fill="#111"/></g>
<g transform="translate(95.93,176) scale(1,1.02)"><text x="0" y="0" font-size="35">0</text></g>
<g transform="translate(84.28,245) scale(1,1.02)"><text x="0" y="0" font-size="35">-</text><path d="M0.373,0 L0.285,0 L0.285,0.561 C0.264,0.541 0.236,0.521 0.201,0.500 C0.167,0.480 0.136,0.465 0.109,0.455 L0.109,0.540 C0.158,0.563 0.201,0.591 0.238,0.624 C0.275,0.657 0.301,0.689 0.316,0.716 L0.373,0.716 Z" transform="translate(11.66,0) scale(35,-35)" fill="#111"/></g>
<g transform="translate(57,313.3) scale(1,1.02)"><path d="M0.373,0 L0.285,0 L0.285,0.561 C0.264,0.541 0.236,0.521 0.201,0.500 C0.167,0.480 0.136,0.465 0.109,0.455 L0.109,0.540 C0.158,0.563 0.201,0.591 0.238,0.624 C0.275,0.657 0.301,0.689 0.316,0.716 L0.373,0.716 Z" transform="translate(0,0) scale(35,-35)" fill="#111"/><text x="19.47" y="0" font-size="35">50</text></g>
<g transform="translate(76.47,364.97) scale(1,1.02)"><text x="0" y="0" font-size="35">75</text></g>
<g transform="translate(95.93,416.65) scale(1,1.02)"><text x="0" y="0" font-size="35">0</text></g>
<g transform="translate(64.81,468.32) scale(1,1.02)"><text x="0" y="0" font-size="35">-75</text></g>
<g transform="translate(45.35,520) scale(1,1.02)"><text x="0" y="0" font-size="35">-</text><path d="M0.373,0 L0.285,0 L0.285,0.561 C0.264,0.541 0.236,0.521 0.201,0.500 C0.167,0.480 0.136,0.465 0.109,0.455 L0.109,0.540 C0.158,0.563 0.201,0.591 0.238,0.624 C0.275,0.657 0.301,0.689 0.316,0.716 L0.373,0.716 Z" transform="translate(11.66,0) scale(35,-35)" fill="#111"/><text x="31.12" y="0" font-size="35">50</text></g>
<g transform="translate(126.87,584.5) scale(1,1.02)"><text x="0" y="0" font-size="35">0</text></g>
<g transform="translate(219.67,584.5) scale(1,1.02)"><text x="0" y="0" font-size="35">50</text></g>
<g transform="translate(312.48,584.5) scale(1,1.02)"><path d="M0.373,0 L0.285,0 L0.285,0.561 C0.264,0.541 0.236,0.521 0.201,0.500 C0.167,0.480 0.136,0.465 0.109,0.455 L0.109,0.540 C0.158,0.563 0.201,0.591 0.238,0.624 C0.275,0.657 0.301,0.689 0.316,0.716 L0.373,0.716 Z" transform="translate(0,0) scale(35,-35)" fill="#111"/><text x="19.47" y="0" font-size="35">00</text></g>
<g transform="translate(415.02,584.5) scale(1,1.02)"><path d="M0.373,0 L0.285,0 L0.285,0.561 C0.264,0.541 0.236,0.521 0.201,0.500 C0.167,0.480 0.136,0.465 0.109,0.455 L0.109,0.540 C0.158,0.563 0.201,0.591 0.238,0.624 C0.275,0.657 0.301,0.689 0.316,0.716 L0.373,0.716 Z" transform="translate(0,0) scale(35,-35)" fill="#111"/><text x="19.47" y="0" font-size="35">50</text></g>
<g transform="translate(517.56,584.5) scale(1,1.02)"><text x="0" y="0" font-size="35">200</text></g>
<g transform="translate(620.1,584.5) scale(1,1.02)"><text x="0" y="0" font-size="35">250</text></g>
<text x="394.2" y="638.5" font-size="41.3" text-anchor="middle" font-weight="normal" >Time (µs)</text>
<text transform="translate(30.3,166.7) rotate(-90)" x="0" y="0" font-size="41" text-anchor="middle">I (A)</text>
<text transform="translate(30.3,413) rotate(-90)" x="0" y="0" font-size="41" text-anchor="middle">V (V)</text>
<text x="6.5" y="30" font-size="40" text-anchor="start" font-weight="bold" >a</text>
<line x1="200" y1="19" x2="257.7" y2="19" stroke="#111111" stroke-width="6" />
<text x="265.3" y="28" font-size="26" text-anchor="start" font-weight="normal" >In</text>
<line x1="293.3" y1="19" x2="350.7" y2="19" stroke="#e02a1e" stroke-width="6" />
<text x="357.5" y="28" font-size="26" text-anchor="start" font-weight="normal" >Out</text>
<line x1="406.5" y1="19" x2="464" y2="19" stroke="#3a67a5" stroke-width="6" />
<text x="470.5" y="28" font-size="26" text-anchor="start" font-weight="normal" >DC out</text>
<g clip-path="url(#clipb)">
<polygon points="765.79,344.9 1105.36,45.25 1105.36,233.05 765.79,531.73" fill="#fdc0c3"/>
<polygon points="765.79,531.73 1105.36,233.05 1105.36,541.4 765.79,541.4" fill="#cfdef0"/>
<line x1="765.79" y1="344.9" x2="1105.36" y2="45.25" stroke="#111111" stroke-width="4.3" />
</g>
<circle cx="796.7" cy="316.3" r="10" fill="#111111"/>
<circle cx="812.5" cy="302.2" r="10" fill="#111111"/>
<circle cx="843.3" cy="287.1" r="10" fill="#111111"/>
<circle cx="927.3" cy="224.9" r="10" fill="#111111"/>
<circle cx="1045.3" cy="96.8" r="10" fill="#111111"/>
<rect x="770.2" y="41.1" width="330.8" height="495.3" fill="none" stroke="#111111" stroke-width="3.6"/>
<line x1="770.2" y1="491.4" x2="779.7" y2="491.4" stroke="#111111" stroke-width="3.6" />
<line x1="770.2" y1="446.4" x2="789.4" y2="446.4" stroke="#111111" stroke-width="3.6" />
<line x1="770.2" y1="401.4" x2="779.7" y2="401.4" stroke="#111111" stroke-width="3.6" />
<line x1="770.2" y1="356.4" x2="789.4" y2="356.4" stroke="#111111" stroke-width="3.6" />
<line x1="770.2" y1="311.4" x2="779.7" y2="311.4" stroke="#111111" stroke-width="3.6" />
<line x1="770.2" y1="266.4" x2="789.4" y2="266.4" stroke="#111111" stroke-width="3.6" />
<line x1="770.2" y1="221.4" x2="779.7" y2="221.4" stroke="#111111" stroke-width="3.6" />
<line x1="770.2" y1="176.4" x2="789.4" y2="176.4" stroke="#111111" stroke-width="3.6" />
<line x1="770.2" y1="131.4" x2="779.7" y2="131.4" stroke="#111111" stroke-width="3.6" />
<line x1="770.2" y1="86.4" x2="789.4" y2="86.4" stroke="#111111" stroke-width="3.6" />
<line x1="792.25" y1="536.4" x2="792.25" y2="526.9" stroke="#111111" stroke-width="3.6" />
<line x1="814.3" y1="536.4" x2="814.3" y2="526.9" stroke="#111111" stroke-width="3.6" />
<line x1="836.35" y1="536.4" x2="836.35" y2="526.9" stroke="#111111" stroke-width="3.6" />
<line x1="858.4" y1="536.4" x2="858.4" y2="526.9" stroke="#111111" stroke-width="3.6" />
<line x1="880.45" y1="536.4" x2="880.45" y2="517.2" stroke="#111111" stroke-width="3.6" />
<line x1="902.5" y1="536.4" x2="902.5" y2="526.9" stroke="#111111" stroke-width="3.6" />
<line x1="924.55" y1="536.4" x2="924.55" y2="526.9" stroke="#111111" stroke-width="3.6" />
<line x1="946.6" y1="536.4" x2="946.6" y2="526.9" stroke="#111111" stroke-width="3.6" />
<line x1="968.65" y1="536.4" x2="968.65" y2="526.9" stroke="#111111" stroke-width="3.6" />
<line x1="990.7" y1="536.4" x2="990.7" y2="517.2" stroke="#111111" stroke-width="3.6" />
<line x1="1012.75" y1="536.4" x2="1012.75" y2="526.9" stroke="#111111" stroke-width="3.6" />
<line x1="1034.8" y1="536.4" x2="1034.8" y2="526.9" stroke="#111111" stroke-width="3.6" />
<line x1="1056.85" y1="536.4" x2="1056.85" y2="526.9" stroke="#111111" stroke-width="3.6" />
<line x1="1078.9" y1="536.4" x2="1078.9" y2="526.9" stroke="#111111" stroke-width="3.6" />
<g transform="translate(730.03,547.4) scale(1,1.02)"><text x="0" y="0" font-size="35">0</text></g>
<g transform="translate(730.03,457.4) scale(1,1.02)"><path d="M0.373,0 L0.285,0 L0.285,0.561 C0.264,0.541 0.236,0.521 0.201,0.500 C0.167,0.480 0.136,0.465 0.109,0.455 L0.109,0.540 C0.158,0.563 0.201,0.591 0.238,0.624 C0.275,0.657 0.301,0.689 0.316,0.716 L0.373,0.716 Z" transform="translate(0,0) scale(35,-35)" fill="#111"/></g>
<g transform="translate(730.03,367.4) scale(1,1.02)"><text x="0" y="0" font-size="35">2</text></g>
<g transform="translate(730.03,277.4) scale(1,1.02)"><text x="0" y="0" font-size="35">3</text></g>
<g transform="translate(730.03,187.4) scale(1,1.02)"><text x="0" y="0" font-size="35">4</text></g>
<g transform="translate(730.03,97.4) scale(1,1.02)"><text x="0" y="0" font-size="35">5</text></g>
<g transform="translate(760.47,584.5) scale(1,1.02)"><text x="0" y="0" font-size="35">0</text></g>
<g transform="translate(870.72,584.5) scale(1,1.02)"><text x="0" y="0" font-size="35">5</text></g>
<g transform="translate(971.23,584.5) scale(1,1.02)"><path d="M0.373,0 L0.285,0 L0.285,0.561 C0.264,0.541 0.236,0.521 0.201,0.500 C0.167,0.480 0.136,0.465 0.109,0.455 L0.109,0.540 C0.158,0.563 0.201,0.591 0.238,0.624 C0.275,0.657 0.301,0.689 0.316,0.716 L0.373,0.716 Z" transform="translate(0,0) scale(35,-35)" fill="#111"/><text x="19.47" y="0" font-size="35">0</text></g>
<g transform="translate(1081.48,584.5) scale(1,1.02)"><path d="M0.373,0 L0.285,0 L0.285,0.561 C0.264,0.541 0.236,0.521 0.201,0.500 C0.167,0.480 0.136,0.465 0.109,0.455 L0.109,0.540 C0.158,0.563 0.201,0.591 0.238,0.624 C0.275,0.657 0.301,0.689 0.316,0.716 L0.373,0.716 Z" transform="translate(0,0) scale(35,-35)" fill="#111"/><text x="19.47" y="0" font-size="35">5</text></g>
<g transform="translate(913.21,632.2) scale(1,1.0)"><path d="M0.373,0 L0.285,0 L0.285,0.561 C0.264,0.541 0.236,0.521 0.201,0.500 C0.167,0.480 0.136,0.465 0.109,0.455 L0.109,0.540 C0.158,0.563 0.201,0.591 0.238,0.624 C0.275,0.657 0.301,0.689 0.316,0.716 L0.373,0.716 Z" transform="translate(0,0) scale(41,-41)" fill="#111"/><text x="22.8" y="0" font-size="41">/f</text></g>
<text transform="translate(718,287.8) rotate(-90)" x="0" y="0" font-size="41" text-anchor="middle">R (K/W)</text>
<text x="693" y="30" font-size="40" text-anchor="start" font-weight="bold" >b</text>
<text x="889" y="314.8" font-size="41">R<tspan font-size="27.5" dy="12">conv</tspan></text>
<text x="976.6" y="419" font-size="41">R<tspan font-size="28" dy="10.7">heat</tspan></text>
<rect x="136.3" y="669.8" width="496.2" height="495.8" fill="url(#gc)"/>
<g clip-path="url(#clipc)">
<line x1="142.3" y1="1165.66" x2="637.5" y2="747.22" stroke="#6f66aa" stroke-width="3.2" />
<line x1="142.3" y1="1151.6" x2="637.5" y2="705.92" stroke="#5cc85e" stroke-width="3.2" />
<line x1="142.3" y1="1151.12" x2="637.5" y2="673.25" stroke="#f5bf17" stroke-width="3.2" />
<line x1="142.3" y1="1154.1" x2="637.5" y2="547.98" stroke="#3b67a8" stroke-width="3.2" />
<line x1="142.3" y1="1157.44" x2="637.5" y2="281.92" stroke="#e32b1f" stroke-width="3.2" />
<rect x="385.45" y="703.25" width="17.3" height="17.3" fill="#e32b1f"/>
<rect x="368.15" y="733.15" width="17.3" height="17.3" fill="#e32b1f"/>
<rect x="352.55" y="766.05" width="17.3" height="17.3" fill="#e32b1f"/>
<rect x="337.15" y="769.35" width="17.3" height="17.3" fill="#e32b1f"/>
<rect x="323.65" y="827.95" width="17.3" height="17.3" fill="#e32b1f"/>
<rect x="309.25" y="842.35" width="17.3" height="17.3" fill="#e32b1f"/>
<rect x="297.15" y="870.75" width="17.3" height="17.3" fill="#e32b1f"/>
<rect x="284.35" y="876.85" width="17.3" height="17.3" fill="#e32b1f"/>
<rect x="272.45" y="904.85" width="17.3" height="17.3" fill="#e32b1f"/>
<rect x="261.25" y="931.15" width="17.3" height="17.3" fill="#e32b1f"/>
<rect x="250.55" y="946.45" width="17.3" height="17.3" fill="#e32b1f"/>
<rect x="240.15" y="962.95" width="17.3" height="17.3" fill="#e32b1f"/>
<rect x="230.35" y="980.55" width="17.3" height="17.3" fill="#e32b1f"/>
<rect x="220.95" y="996.25" width="17.3" height="17.3" fill="#e32b1f"/>
<rect x="211.85" y="1002.75" width="17.3" height="17.3" fill="#e32b1f"/>
<rect x="202.85" y="1025.85" width="17.3" height="17.3" fill="#e32b1f"/>
<rect x="194.65" y="1040.65" width="17.3" height="17.3" fill="#e32b1f"/>
<rect x="185.5" y="1054.4" width="17.3" height="17.3" fill="#e32b1f"/>
<rect x="177.02" y="1070.09" width="17.3" height="17.3" fill="#e32b1f"/>
<rect x="169.22" y="1082.91" width="17.3" height="17.3" fill="#e32b1f"/>
<rect x="162.08" y="1097.14" width="17.3" height="17.3" fill="#e32b1f"/>
<rect x="155.62" y="1107.94" width="17.3" height="17.3" fill="#e32b1f"/>
<rect x="149.83" y="1117.77" width="17.3" height="17.3" fill="#e32b1f"/>
<rect x="144.71" y="1126.63" width="17.3" height="17.3" fill="#e32b1f"/>
<rect x="140.26" y="1133.42" width="17.3" height="17.3" fill="#e32b1f"/>
<rect x="136.48" y="1137.61" width="17.3" height="17.3" fill="#e32b1f"/>
<circle cx="420.4" cy="811.8" r="10" fill="#3b67a8"/>
<circle cx="403.5" cy="836.6" r="10" fill="#3b67a8"/>
<circle cx="387.5" cy="855.5" r="10" fill="#3b67a8"/>
<circle cx="372.4" cy="871.9" r="10" fill="#3b67a8"/>
<circle cx="357.6" cy="892.1" r="10" fill="#3b67a8"/>
<circle cx="344.1" cy="907.6" r="10" fill="#3b67a8"/>
<circle cx="330.5" cy="927.8" r="10" fill="#3b67a8"/>
<circle cx="317.3" cy="933.6" r="10" fill="#3b67a8"/>
<circle cx="304.1" cy="957.4" r="10" fill="#3b67a8"/>
<circle cx="293.8" cy="972" r="10" fill="#3b67a8"/>
<circle cx="282.3" cy="986.7" r="10" fill="#3b67a8"/>
<circle cx="271.6" cy="999.9" r="10" fill="#3b67a8"/>
<circle cx="260.9" cy="1012.3" r="10" fill="#3b67a8"/>
<circle cx="250.2" cy="1026.3" r="10" fill="#3b67a8"/>
<circle cx="241.1" cy="1037.8" r="10" fill="#3b67a8"/>
<circle cx="230.4" cy="1046" r="10" fill="#3b67a8"/>
<circle cx="221.54" cy="1059.53" r="10" fill="#3b67a8"/>
<circle cx="213.12" cy="1069.32" r="10" fill="#3b67a8"/>
<circle cx="205.14" cy="1080.74" r="10" fill="#3b67a8"/>
<circle cx="197.59" cy="1089.44" r="10" fill="#3b67a8"/>
<circle cx="190.48" cy="1098.11" r="10" fill="#3b67a8"/>
<circle cx="183.81" cy="1107.19" r="10" fill="#3b67a8"/>
<circle cx="177.58" cy="1114.46" r="10" fill="#3b67a8"/>
<circle cx="171.79" cy="1120.86" r="10" fill="#3b67a8"/>
<circle cx="166.43" cy="1127.97" r="10" fill="#3b67a8"/>
<circle cx="161.51" cy="1133.12" r="10" fill="#3b67a8"/>
<circle cx="157.03" cy="1139.97" r="10" fill="#3b67a8"/>
<circle cx="152.99" cy="1142.81" r="10" fill="#3b67a8"/>
<circle cx="149.39" cy="1148.47" r="10" fill="#3b67a8"/>
<circle cx="146.22" cy="1149.56" r="10" fill="#3b67a8"/>
<circle cx="143.49" cy="1152.07" r="10" fill="#3b67a8"/>
<circle cx="141.2" cy="1155.44" r="10" fill="#3b67a8"/>
<polygon points="421,868.55 432.5,888.47 409.5,888.47" fill="#f5bf17"/>
<polygon points="405.3,885.05 416.8,904.97 393.8,904.97" fill="#f5bf17"/>
<polygon points="388.9,899.85 400.4,919.77 377.4,919.77" fill="#f5bf17"/>
<polygon points="374.1,916.25 385.6,936.17 362.6,936.17" fill="#f5bf17"/>
<polygon points="361.7,921.25 373.2,941.17 350.2,941.17" fill="#f5bf17"/>
<polygon points="343.6,947.55 355.1,967.47 332.1,967.47" fill="#f5bf17"/>
<polygon points="326.3,963.25 337.8,983.17 314.8,983.17" fill="#f5bf17"/>
<polygon points="313.03,980.8 324.53,1000.72 301.53,1000.72" fill="#f5bf17"/>
<polygon points="300.23,992.83 311.73,1012.75 288.73,1012.75" fill="#f5bf17"/>
<polygon points="287.92,1005.17 299.42,1025.09 276.42,1025.09" fill="#f5bf17"/>
<polygon points="276.09,1017.26 287.59,1037.18 264.59,1037.18" fill="#f5bf17"/>
<polygon points="264.74,1028.94 276.24,1048.85 253.24,1048.85" fill="#f5bf17"/>
<polygon points="253.87,1039.24 265.37,1059.16 242.37,1059.16" fill="#f5bf17"/>
<polygon points="243.48,1048.47 254.98,1068.39 231.98,1068.39" fill="#f5bf17"/>
<polygon points="233.57,1060 245.07,1079.92 222.07,1079.92" fill="#f5bf17"/>
<polygon points="224.14,1068.09 235.64,1088.01 212.64,1088.01" fill="#f5bf17"/>
<polygon points="215.19,1078.39 226.69,1098.31 203.69,1098.31" fill="#f5bf17"/>
<polygon points="206.72,1086.86 218.22,1106.77 195.22,1106.77" fill="#f5bf17"/>
<polygon points="198.73,1092.79 210.23,1112.71 187.23,1112.71" fill="#f5bf17"/>
<polygon points="191.23,1101.35 202.73,1121.26 179.73,1121.26" fill="#f5bf17"/>
<polygon points="184.2,1109.3 195.7,1129.22 172.7,1129.22" fill="#f5bf17"/>
<polygon points="177.66,1114.47 189.16,1134.39 166.16,1134.39" fill="#f5bf17"/>
<polygon points="171.59,1120.96 183.09,1140.88 160.09,1140.88" fill="#f5bf17"/>
<polygon points="166.01,1126.03 177.51,1145.95 154.51,1145.95" fill="#f5bf17"/>
<polygon points="160.9,1130.51 172.4,1150.43 149.4,1150.43" fill="#f5bf17"/>
<polygon points="156.28,1135.62 167.78,1155.54 144.78,1155.54" fill="#f5bf17"/>
<polygon points="152.14,1139.64 163.64,1159.55 140.64,1159.55" fill="#f5bf17"/>
<polygon points="148.48,1143.75 159.98,1163.67 136.98,1163.67" fill="#f5bf17"/>
<polygon points="145.3,1147.83 156.8,1167.75 133.8,1167.75" fill="#f5bf17"/>
<polygon points="142.6,1150.43 154.1,1170.35 131.1,1170.35" fill="#f5bf17"/>
<polygon points="140.38,1153.64 151.88,1173.55 128.88,1173.55" fill="#f5bf17"/>
<polygon points="509.1,829.25 520.6,809.33 497.6,809.33" fill="#5cc85e"/>
<polygon points="489.4,848.95 500.9,829.03 477.9,829.03" fill="#5cc85e"/>
<polygon points="470.5,867.05 482,847.13 459,847.13" fill="#5cc85e"/>
<polygon points="453.2,885.15 464.7,865.23 441.7,865.23" fill="#5cc85e"/>
<polygon points="435.8,901.45 447.3,881.53 424.3,881.53" fill="#5cc85e"/>
<polygon points="419.3,916.25 430.8,896.33 407.8,896.33" fill="#5cc85e"/>
<polygon points="403.7,931.15 415.2,911.23 392.2,911.23" fill="#5cc85e"/>
<polygon points="388.1,945.95 399.6,926.03 376.6,926.03" fill="#5cc85e"/>
<polygon points="372.4,959.05 383.9,939.13 360.9,939.13" fill="#5cc85e"/>
<polygon points="358.4,972.25 369.9,952.33 346.9,952.33" fill="#5cc85e"/>
<polygon points="344.29,986.33 355.79,966.42 332.79,966.42" fill="#5cc85e"/>
<polygon points="330.64,997.01 342.14,977.09 319.14,977.09" fill="#5cc85e"/>
<polygon points="317.45,1010.58 328.95,990.66 305.95,990.66" fill="#5cc85e"/>
<polygon points="304.72,1021.39 316.22,1001.48 293.22,1001.48" fill="#5cc85e"/>
<polygon points="292.46,1033.37 303.96,1013.45 280.96,1013.45" fill="#5cc85e"/>
<polygon points="280.67,1043.6 292.17,1023.68 269.17,1023.68" fill="#5cc85e"/>
<polygon points="269.33,1053.58 280.83,1033.66 257.83,1033.66" fill="#5cc85e"/>
<polygon points="258.46,1063.26 269.96,1043.34 246.96,1043.34" fill="#5cc85e"/>
<polygon points="248.05,1073.54 259.55,1053.62 236.55,1053.62" fill="#5cc85e"/>
<polygon points="238.11,1081.67 249.61,1061.75 226.61,1061.75" fill="#5cc85e"/>
<polygon points="228.63,1089.56 240.13,1069.65 217.13,1069.65" fill="#5cc85e"/>
<polygon points="219.61,1099.84 231.11,1079.93 208.11,1079.93" fill="#5cc85e"/>
<polygon points="211.06,1107.51 222.56,1087.6 199.56,1087.6" fill="#5cc85e"/>
<polygon points="202.96,1114.75 214.46,1094.83 191.46,1094.83" fill="#5cc85e"/>
<polygon points="195.34,1122.03 206.84,1102.11 183.84,1102.11" fill="#5cc85e"/>
<polygon points="188.17,1127.53 199.67,1107.61 176.67,1107.61" fill="#5cc85e"/>
<polygon points="181.47,1134.42 192.97,1114.5 169.97,1114.5" fill="#5cc85e"/>
<polygon points="175.23,1141.21 186.73,1121.29 163.73,1121.29" fill="#5cc85e"/>
<polygon points="169.46,1147.05 180.96,1127.14 157.96,1127.14" fill="#5cc85e"/>
<polygon points="164.15,1152.06 175.65,1132.14 152.65,1132.14" fill="#5cc85e"/>
<polygon points="159.3,1154.91 170.8,1135 147.8,1135" fill="#5cc85e"/>
<polygon points="154.91,1160.43 166.41,1140.51 143.41,1140.51" fill="#5cc85e"/>
<polygon points="150.99,1163.94 162.49,1144.03 139.49,1144.03" fill="#5cc85e"/>
<polygon points="147.54,1166.98 159.04,1147.06 136.04,1147.06" fill="#5cc85e"/>
<polygon points="144.54,1169.36 156.04,1149.44 133.04,1149.44" fill="#5cc85e"/>
<polygon points="142.01,1171.79 153.51,1151.87 130.51,1151.87" fill="#5cc85e"/>
<polygon points="139.94,1174.65 151.44,1154.73 128.44,1154.73" fill="#5cc85e"/>
<polygon points="621.9,718.3 634.1,730.5 621.9,742.7 609.7,730.5" fill="#6f66aa"/>
<polygon points="569.2,777.5 581.4,789.7 569.2,801.9 557,789.7" fill="#6f66aa"/>
<polygon points="523.1,827.7 535.3,839.9 523.1,852.1 510.9,839.9" fill="#6f66aa"/>
<polygon points="482.5,870.5 494.7,882.7 482.5,894.9 470.3,882.7" fill="#6f66aa"/>
<polygon points="446.2,904.9 458.4,917.1 446.2,929.3 434,917.1" fill="#6f66aa"/>
<polygon points="413.3,927.1 425.5,939.3 413.3,951.5 401.1,939.3" fill="#6f66aa"/>
<polygon points="382.3,956.8 394.5,969 382.3,981.2 370.1,969" fill="#6f66aa"/>
<polygon points="354.3,974.1 366.5,986.3 354.3,998.5 342.1,986.3" fill="#6f66aa"/>
<polygon points="327.5,1004.7 339.7,1016.9 327.5,1029.1 315.3,1016.9" fill="#6f66aa"/>
<polygon points="303.8,1026.4 316,1038.6 303.8,1050.8 291.6,1038.6" fill="#6f66aa"/>
<polygon points="281.4,1043.5 293.6,1055.7 281.4,1067.9 269.2,1055.7" fill="#6f66aa"/>
<polygon points="259,1052.1 271.2,1064.3 259,1076.5 246.8,1064.3" fill="#6f66aa"/>
<polygon points="241.9,1075.8 254.1,1088 241.9,1100.2 229.7,1088" fill="#6f66aa"/>
<polygon points="223.5,1090.3 235.7,1102.5 223.5,1114.7 211.3,1102.5" fill="#6f66aa"/>
<polygon points="206.3,1104.8 218.5,1117 206.3,1129.2 194.1,1117" fill="#6f66aa"/>
<polygon points="187.9,1114 200.1,1126.2 187.9,1138.4 175.7,1126.2" fill="#6f66aa"/>
<polygon points="175.89,1128.68 188.09,1140.88 175.89,1153.08 163.69,1140.88" fill="#6f66aa"/>
<polygon points="165.47,1137.08 177.67,1149.28 165.47,1161.48 153.27,1149.28" fill="#6f66aa"/>
<polygon points="156.64,1146.38 168.84,1158.58 156.64,1170.78 144.44,1158.58" fill="#6f66aa"/>
<polygon points="149.39,1151.41 161.59,1163.61 149.39,1175.81 137.19,1163.61" fill="#6f66aa"/>
<polygon points="143.74,1156.93 155.94,1169.13 143.74,1181.33 131.54,1169.13" fill="#6f66aa"/>
<polygon points="139.67,1159.08 151.87,1171.28 139.67,1183.48 127.47,1171.28" fill="#6f66aa"/>
<polygon points="225,1092.3 237.2,1104.5 225,1116.7 212.8,1104.5" fill="#6f66aa"/>
<polygon points="207.8,1106.8 220,1119 207.8,1131.2 195.6,1119" fill="#6f66aa"/>
<polygon points="189.4,1116 201.6,1128.2 189.4,1140.4 177.2,1128.2" fill="#6f66aa"/>
<polygon points="177.39,1130.68 189.59,1142.88 177.39,1155.08 165.19,1142.88" fill="#6f66aa"/>
<polygon points="166.97,1139.08 179.17,1151.28 166.97,1163.48 154.77,1151.28" fill="#6f66aa"/>
<polygon points="158.14,1148.38 170.34,1160.58 158.14,1172.78 145.94,1160.58" fill="#6f66aa"/>
<polygon points="150.89,1153.41 163.09,1165.61 150.89,1177.81 138.69,1165.61" fill="#6f66aa"/>
<polygon points="145.24,1158.93 157.44,1171.13 145.24,1183.33 133.04,1171.13" fill="#6f66aa"/>
<polygon points="141.17,1161.08 153.37,1173.28 141.17,1185.48 128.97,1173.28" fill="#6f66aa"/>
</g>
<rect x="136.3" y="669.8" width="496.2" height="495.8" fill="none" stroke="#111111" stroke-width="3.6"/>
<line x1="136.3" y1="1130.2" x2="145.8" y2="1130.2" stroke="#111111" stroke-width="3.6" />
<line x1="632.5" y1="1130.2" x2="623" y2="1130.2" stroke="#111111" stroke-width="3.6" />
<line x1="136.3" y1="1094.8" x2="155.5" y2="1094.8" stroke="#111111" stroke-width="3.6" />
<line x1="632.5" y1="1094.8" x2="613.3" y2="1094.8" stroke="#111111" stroke-width="3.6" />
<line x1="136.3" y1="1059.4" x2="145.8" y2="1059.4" stroke="#111111" stroke-width="3.6" />
<line x1="632.5" y1="1059.4" x2="623" y2="1059.4" stroke="#111111" stroke-width="3.6" />
<line x1="136.3" y1="1024" x2="155.5" y2="1024" stroke="#111111" stroke-width="3.6" />
<line x1="632.5" y1="1024" x2="613.3" y2="1024" stroke="#111111" stroke-width="3.6" />
<line x1="136.3" y1="988.6" x2="145.8" y2="988.6" stroke="#111111" stroke-width="3.6" />
<line x1="632.5" y1="988.6" x2="623" y2="988.6" stroke="#111111" stroke-width="3.6" />
<line x1="136.3" y1="953.2" x2="155.5" y2="953.2" stroke="#111111" stroke-width="3.6" />
<line x1="632.5" y1="953.2" x2="613.3" y2="953.2" stroke="#111111" stroke-width="3.6" />
<line x1="136.3" y1="917.8" x2="145.8" y2="917.8" stroke="#111111" stroke-width="3.6" />
<line x1="632.5" y1="917.8" x2="623" y2="917.8" stroke="#111111" stroke-width="3.6" />
<line x1="136.3" y1="882.4" x2="155.5" y2="882.4" stroke="#111111" stroke-width="3.6" />
<line x1="632.5" y1="882.4" x2="613.3" y2="882.4" stroke="#111111" stroke-width="3.6" />
<line x1="136.3" y1="847" x2="145.8" y2="847" stroke="#111111" stroke-width="3.6" />
<line x1="632.5" y1="847" x2="623" y2="847" stroke="#111111" stroke-width="3.6" />
<line x1="136.3" y1="811.6" x2="155.5" y2="811.6" stroke="#111111" stroke-width="3.6" />
<line x1="632.5" y1="811.6" x2="613.3" y2="811.6" stroke="#111111" stroke-width="3.6" />
<line x1="136.3" y1="776.2" x2="145.8" y2="776.2" stroke="#111111" stroke-width="3.6" />
<line x1="632.5" y1="776.2" x2="623" y2="776.2" stroke="#111111" stroke-width="3.6" />
<line x1="136.3" y1="740.8" x2="155.5" y2="740.8" stroke="#111111" stroke-width="3.6" />
<line x1="632.5" y1="740.8" x2="613.3" y2="740.8" stroke="#111111" stroke-width="3.6" />
<line x1="136.3" y1="705.4" x2="145.8" y2="705.4" stroke="#111111" stroke-width="3.6" />
<line x1="632.5" y1="705.4" x2="623" y2="705.4" stroke="#111111" stroke-width="3.6" />
<line x1="235.6" y1="1165.6" x2="235.6" y2="1156.1" stroke="#111111" stroke-width="3.6" />
<line x1="235.6" y1="669.8" x2="235.6" y2="679.3" stroke="#111111" stroke-width="3.6" />
<line x1="334.9" y1="1165.6" x2="334.9" y2="1146.4" stroke="#111111" stroke-width="3.6" />
<line x1="334.9" y1="669.8" x2="334.9" y2="689" stroke="#111111" stroke-width="3.6" />
<line x1="434.2" y1="1165.6" x2="434.2" y2="1156.1" stroke="#111111" stroke-width="3.6" />
<line x1="434.2" y1="669.8" x2="434.2" y2="679.3" stroke="#111111" stroke-width="3.6" />
<line x1="533.5" y1="1165.6" x2="533.5" y2="1146.4" stroke="#111111" stroke-width="3.6" />
<line x1="533.5" y1="669.8" x2="533.5" y2="689" stroke="#111111" stroke-width="3.6" />
<g transform="translate(95.73,1176.6) scale(1,1.02)"><text x="0" y="0" font-size="35">0</text></g>
<g transform="translate(76.27,1105.8) scale(1,1.02)"><path d="M0.373,0 L0.285,0 L0.285,0.561 C0.264,0.541 0.236,0.521 0.201,0.500 C0.167,0.480 0.136,0.465 0.109,0.455 L0.109,0.540 C0.158,0.563 0.201,0.591 0.238,0.624 C0.275,0.657 0.301,0.689 0.316,0.716 L0.373,0.716 Z" transform="translate(0,0) scale(35,-35)" fill="#111"/><text x="19.47" y="0" font-size="35">0</text></g>
<g transform="translate(76.27,1035) scale(1,1.02)"><text x="0" y="0" font-size="35">20</text></g>
<g transform="translate(76.27,964.2) scale(1,1.02)"><text x="0" y="0" font-size="35">30</text></g>
<g transform="translate(76.27,893.4) scale(1,1.02)"><text x="0" y="0" font-size="35">40</text></g>
<g transform="translate(76.27,822.6) scale(1,1.02)"><text x="0" y="0" font-size="35">50</text></g>
<g transform="translate(76.27,751.8) scale(1,1.02)"><text x="0" y="0" font-size="35">60</text></g>
<g transform="translate(76.27,681) scale(1,1.02)"><text x="0" y="0" font-size="35">70</text></g>
<g transform="translate(126.57,1214) scale(1,1.02)"><text x="0" y="0" font-size="35">0</text></g>
<g transform="translate(315.43,1214) scale(1,1.02)"><path d="M0.373,0 L0.285,0 L0.285,0.561 C0.264,0.541 0.236,0.521 0.201,0.500 C0.167,0.480 0.136,0.465 0.109,0.455 L0.109,0.540 C0.158,0.563 0.201,0.591 0.238,0.624 C0.275,0.657 0.301,0.689 0.316,0.716 L0.373,0.716 Z" transform="translate(0,0) scale(35,-35)" fill="#111"/><text x="19.47" y="0" font-size="35">0</text></g>
<g transform="translate(514.03,1214) scale(1,1.02)"><text x="0" y="0" font-size="35">20</text></g>
<text x="384.9" y="1264.2" font-size="41" text-anchor="middle" font-weight="normal" >Power dissipation (W)</text>
<text transform="translate(64.4,917) rotate(-90)" x="0" y="0" font-size="41" text-anchor="middle">ΔT surface (°C)</text>
<text x="10.5" y="667.5" font-size="40" text-anchor="start" font-weight="bold" >c</text>
<polygon points="304.2,1066.4 376.8,1006.3 376.8,1066.4" fill="none" stroke="#111111" stroke-width="3" stroke-linejoin="miter"/>
<text x="390.5" y="1061.7" font-size="41">R<tspan font-size="28" dy="10.2">total</tspan></text>
<text x="292" y="1139" font-size="41" text-anchor="start" font-weight="normal" >f = 0.08 - 0.8 ml/s</text>
<path d="M155.9,1057.4 Q200,1035 240,1062 Q262,1080 265,1105" fill="none" stroke="#111111" stroke-width="3.2"/>
<polygon points="258.4,1105.5 274.4,1105.5 266.4,1121.5" fill="#111111"/>
<rect x="768" y="668.4" width="330.5" height="495.6" fill="url(#gd)"/>
<g clip-path="url(#clipd)">
<line x1="810.89" y1="1102.41" x2="817.11" y2="1098.39" stroke="#e02a1e" stroke-width="4" />
<line x1="835.86" y1="1082.22" x2="839.14" y2="1078.48" stroke="#e02a1e" stroke-width="4" />
<line x1="856.06" y1="1060.09" x2="858.34" y2="1057.71" stroke="#e02a1e" stroke-width="4" />
<line x1="891.23" y1="1020.18" x2="892.07" y2="1019.12" stroke="#e02a1e" stroke-width="4" />
<line x1="907.66" y1="999.58" x2="908.84" y2="998.12" stroke="#e02a1e" stroke-width="4" />
<line x1="965.99" y1="921.72" x2="967.21" y2="920.18" stroke="#e02a1e" stroke-width="4" />
<line x1="980.45" y1="899.15" x2="989.95" y2="879.55" stroke="#e02a1e" stroke-width="4" />
<line x1="1002.02" y1="857.7" x2="1014.58" y2="837.6" stroke="#e02a1e" stroke-width="4" />
<line x1="1027.4" y1="816.15" x2="1039.5" y2="794.95" stroke="#e02a1e" stroke-width="4" />
<line x1="1050.66" y1="772.63" x2="1058.94" y2="753.47" stroke="#e02a1e" stroke-width="4" />
<line x1="1067.88" y1="730.15" x2="1072.42" y2="716.65" stroke="#e02a1e" stroke-width="4" />
<line x1="966.14" y1="1018.18" x2="967.06" y2="1016.92" stroke="#111111" stroke-width="4.2" />
<line x1="980.48" y1="993.66" x2="989.42" y2="973.54" stroke="#111111" stroke-width="4.2" />
<line x1="1000.61" y1="948.97" x2="1015.49" y2="917.13" stroke="#111111" stroke-width="4.2" />
<line x1="1025.97" y1="892.27" x2="1040.33" y2="854.23" stroke="#111111" stroke-width="4.2" />
<line x1="1049.2" y1="828.74" x2="1061.1" y2="791.46" stroke="#111111" stroke-width="4.2" />
<line x1="1067.99" y1="765.39" x2="1073.31" y2="740.21" stroke="#111111" stroke-width="4.2" />
<rect x="791.6" y="1100.4" width="17.6" height="17.6" fill="#e02a1e"/>
<rect x="818.8" y="1082.8" width="17.6" height="17.6" fill="#e02a1e"/>
<rect x="838.6" y="1060.3" width="17.6" height="17.6" fill="#e02a1e"/>
<rect x="858.2" y="1039.9" width="17.6" height="17.6" fill="#e02a1e"/>
<rect x="874.7" y="1021.2" width="17.6" height="17.6" fill="#e02a1e"/>
<rect x="891" y="1000.5" width="17.6" height="17.6" fill="#e02a1e"/>
<rect x="907.9" y="979.6" width="17.6" height="17.6" fill="#e02a1e"/>
<rect x="921.4" y="961.9" width="17.6" height="17.6" fill="#e02a1e"/>
<rect x="935.8" y="941" width="17.6" height="17.6" fill="#e02a1e"/>
<rect x="949.4" y="922.7" width="17.6" height="17.6" fill="#e02a1e"/>
<rect x="966.2" y="901.6" width="17.6" height="17.6" fill="#e02a1e"/>
<rect x="986.6" y="859.5" width="17.6" height="17.6" fill="#e02a1e"/>
<rect x="1012.4" y="818.2" width="17.6" height="17.6" fill="#e02a1e"/>
<rect x="1036.9" y="775.3" width="17.6" height="17.6" fill="#e02a1e"/>
<rect x="1055.1" y="733.2" width="17.6" height="17.6" fill="#e02a1e"/>
<rect x="1067.6" y="696" width="17.6" height="17.6" fill="#e02a1e"/>
<circle cx="800.4" cy="1131.5" r="10.1" fill="#111111"/>
<circle cx="827.6" cy="1129.6" r="10.1" fill="#111111"/>
<circle cx="847.4" cy="1124.2" r="10.1" fill="#111111"/>
<circle cx="867" cy="1116.9" r="10.1" fill="#111111"/>
<circle cx="883.5" cy="1107.3" r="10.1" fill="#111111"/>
<circle cx="899.8" cy="1095.1" r="10.1" fill="#111111"/>
<circle cx="916.7" cy="1080.2" r="10.1" fill="#111111"/>
<circle cx="930.2" cy="1065.8" r="10.1" fill="#111111"/>
<circle cx="944.6" cy="1048.1" r="10.1" fill="#111111"/>
<circle cx="958.2" cy="1029.1" r="10.1" fill="#111111"/>
<circle cx="975" cy="1006" r="10.1" fill="#111111"/>
<circle cx="994.9" cy="961.2" r="10.1" fill="#111111"/>
<circle cx="1021.2" cy="904.9" r="10.1" fill="#111111"/>
<circle cx="1045.1" cy="841.6" r="10.1" fill="#111111"/>
<circle cx="1065.2" cy="778.6" r="10.1" fill="#111111"/>
<circle cx="1076.1" cy="727" r="10.1" fill="#111111"/>
</g>
<rect x="768" y="668.4" width="330.5" height="495.6" fill="none" stroke="#111111" stroke-width="3.6"/>
<line x1="768" y1="1136.78" x2="777.5" y2="1136.78" stroke="#111111" stroke-width="3.6" />
<line x1="768" y1="1109.2" x2="787.2" y2="1109.2" stroke="#111111" stroke-width="3.6" />
<line x1="768" y1="1081.62" x2="777.5" y2="1081.62" stroke="#111111" stroke-width="3.6" />
<line x1="768" y1="1054.04" x2="777.5" y2="1054.04" stroke="#111111" stroke-width="3.6" />
<line x1="768" y1="1026.46" x2="777.5" y2="1026.46" stroke="#111111" stroke-width="3.6" />
<line x1="768" y1="998.88" x2="777.5" y2="998.88" stroke="#111111" stroke-width="3.6" />
<line x1="768" y1="971.3" x2="787.2" y2="971.3" stroke="#111111" stroke-width="3.6" />
<line x1="768" y1="943.72" x2="777.5" y2="943.72" stroke="#111111" stroke-width="3.6" />
<line x1="768" y1="916.14" x2="777.5" y2="916.14" stroke="#111111" stroke-width="3.6" />
<line x1="768" y1="888.56" x2="777.5" y2="888.56" stroke="#111111" stroke-width="3.6" />
<line x1="768" y1="860.98" x2="777.5" y2="860.98" stroke="#111111" stroke-width="3.6" />
<line x1="768" y1="833.4" x2="787.2" y2="833.4" stroke="#111111" stroke-width="3.6" />
<line x1="768" y1="805.82" x2="777.5" y2="805.82" stroke="#111111" stroke-width="3.6" />
<line x1="768" y1="778.24" x2="777.5" y2="778.24" stroke="#111111" stroke-width="3.6" />
<line x1="768" y1="750.66" x2="777.5" y2="750.66" stroke="#111111" stroke-width="3.6" />
<line x1="768" y1="723.08" x2="777.5" y2="723.08" stroke="#111111" stroke-width="3.6" />
<line x1="768" y1="695.5" x2="787.2" y2="695.5" stroke="#111111" stroke-width="3.6" />
<line x1="1098.5" y1="1131.5" x2="1079.3" y2="1131.5" stroke="#111111" stroke-width="3.6" />
<line x1="1098.5" y1="1065.1" x2="1089" y2="1065.1" stroke="#111111" stroke-width="3.6" />
<line x1="1098.5" y1="998.7" x2="1079.3" y2="998.7" stroke="#111111" stroke-width="3.6" />
<line x1="1098.5" y1="932.3" x2="1089" y2="932.3" stroke="#111111" stroke-width="3.6" />
<line x1="1098.5" y1="865.9" x2="1079.3" y2="865.9" stroke="#111111" stroke-width="3.6" />
<line x1="1098.5" y1="799.5" x2="1089" y2="799.5" stroke="#111111" stroke-width="3.6" />
<line x1="1098.5" y1="733.1" x2="1079.3" y2="733.1" stroke="#111111" stroke-width="3.6" />
<line x1="800.4" y1="1164" x2="800.4" y2="1144.8" stroke="#111111" stroke-width="3.6" />
<line x1="844.55" y1="1164" x2="844.55" y2="1154.5" stroke="#111111" stroke-width="3.6" />
<line x1="888.7" y1="1164" x2="888.7" y2="1154.5" stroke="#111111" stroke-width="3.6" />
<line x1="932.85" y1="1164" x2="932.85" y2="1144.8" stroke="#111111" stroke-width="3.6" />
<line x1="977" y1="1164" x2="977" y2="1154.5" stroke="#111111" stroke-width="3.6" />
<line x1="1021.15" y1="1164" x2="1021.15" y2="1154.5" stroke="#111111" stroke-width="3.6" />
<line x1="1065.3" y1="1164" x2="1065.3" y2="1144.8" stroke="#111111" stroke-width="3.6" />
<g transform="translate(739.33,1120.2) scale(1,1.02)"><text x="0" y="0" font-size="35">0</text></g>
<g transform="translate(700.4,982.3) scale(1,1.02)"><text x="0" y="0" font-size="35">250</text></g>
<g transform="translate(700.4,844.4) scale(1,1.02)"><text x="0" y="0" font-size="35">500</text></g>
<g transform="translate(700.4,706.5) scale(1,1.02)"><text x="0" y="0" font-size="35">750</text></g>
<g transform="translate(1118,1143.8) scale(1,1.02)"><text x="0" y="0" font-size="35">0</text></g>
<g transform="translate(1118,1011) scale(1,1.02)"><text x="0" y="0" font-size="35">20</text></g>
<g transform="translate(1118,878.2) scale(1,1.02)"><text x="0" y="0" font-size="35">40</text></g>
<g transform="translate(1118,745.4) scale(1,1.02)"><text x="0" y="0" font-size="35">60</text></g>
<g transform="translate(777.07,1212.6) scale(1,1.02)"><text x="0" y="0" font-size="35">0.0</text></g>
<g transform="translate(909.52,1212.6) scale(1,1.02)"><text x="0" y="0" font-size="35">0.4</text></g>
<g transform="translate(1041.97,1212.6) scale(1,1.02)"><text x="0" y="0" font-size="35">0.8</text></g>
<text x="934.3" y="1260.5" font-size="41" text-anchor="middle" font-weight="normal" >Flow Rate (ml/s)</text>
<text transform="translate(690,914) rotate(-90)" x="0" y="0" font-size="41" text-anchor="middle">Pressure drop (mbar)</text>
<text transform="translate(1205.5,914.3) rotate(-90)" x="0" y="0" font-size="41" text-anchor="middle">Pumping power (mW)</text>
<text x="664.5" y="671.3" font-size="40" text-anchor="start" font-weight="bold" >d</text>
<path d="M912.6,945.7 Q880,915 800,929" fill="none" stroke="#d8312a" stroke-width="2.2"/>
<polygon points="791.2,930.7 805,920.5 806,935" fill="#d8312a"/>
<path d="M954.7,1084.3 Q1000,1112 1064,1082" fill="none" stroke="#111111" stroke-width="2.2"/>
<polygon points="1073.6,1075.3 1059.5,1078 1067.5,1089.5" fill="#111111"/>
</svg>
</body></html>
